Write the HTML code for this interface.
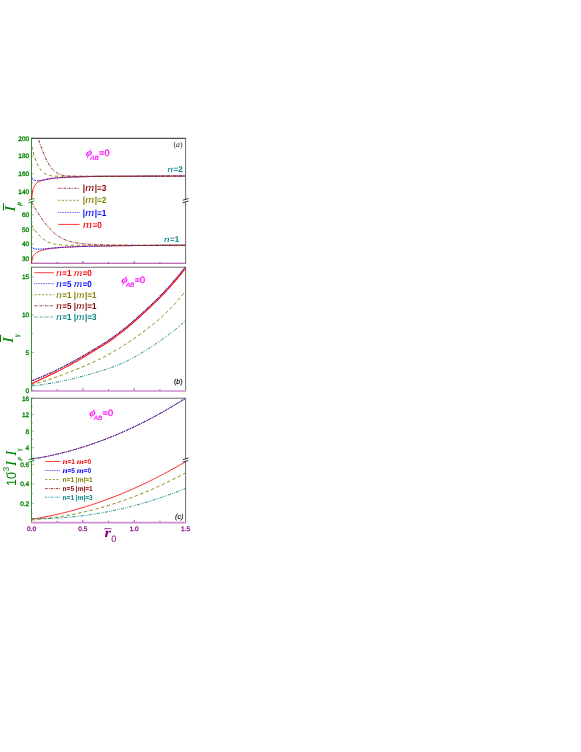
<!DOCTYPE html>
<html><head><meta charset="utf-8"><title>chart</title>
<style>
html,body{margin:0;padding:0;background:#fff;}
body{width:581px;height:752px;overflow:hidden;font-family:"Liberation Sans",sans-serif;}
svg{will-change:transform;}
svg text{white-space:pre;text-rendering:geometricPrecision;}
</style></head><body>
<svg width="581" height="752" viewBox="0 0 581 752" style="display:block" font-family="Liberation Sans" stroke-linecap="butt">
<clipPath id="ca"><rect x="30.9" y="138.3" width="154.7" height="125.0"/></clipPath>
<line x1="31.50" y1="138.30" x2="186.10" y2="138.30" stroke="#222" stroke-width="1.0" />
<line x1="185.60" y1="138.30" x2="185.60" y2="263.30" stroke="#6e6e6e" stroke-width="1.0" />
<line x1="31.50" y1="137.80" x2="31.50" y2="263.30" stroke="#2f962f" stroke-width="1.0" />
<line x1="31.00" y1="263.30" x2="186.10" y2="263.30" stroke="#a040a0" stroke-width="1.1" />
<line x1="31.50" y1="191.79" x2="33.90" y2="191.79" stroke="#008000" stroke-width="0.8" stroke-opacity="0.55"/>
<text x="29.20" y="194.09" fill="#008000" font-size="6.5" text-anchor="end" font-family="Liberation Sans" font-style="normal" font-weight="normal" stroke="#008000" stroke-width="0.3">140</text>
<line x1="31.50" y1="182.88" x2="32.90" y2="182.88" stroke="#008000" stroke-width="0.8" stroke-opacity="0.55"/>
<line x1="31.50" y1="173.96" x2="33.90" y2="173.96" stroke="#008000" stroke-width="0.8" stroke-opacity="0.55"/>
<text x="29.20" y="176.26" fill="#008000" font-size="6.5" text-anchor="end" font-family="Liberation Sans" font-style="normal" font-weight="normal" stroke="#008000" stroke-width="0.3">160</text>
<line x1="31.50" y1="165.05" x2="32.90" y2="165.05" stroke="#008000" stroke-width="0.8" stroke-opacity="0.55"/>
<line x1="31.50" y1="156.13" x2="33.90" y2="156.13" stroke="#008000" stroke-width="0.8" stroke-opacity="0.55"/>
<text x="29.20" y="158.43" fill="#008000" font-size="6.5" text-anchor="end" font-family="Liberation Sans" font-style="normal" font-weight="normal" stroke="#008000" stroke-width="0.3">180</text>
<line x1="31.50" y1="147.22" x2="32.90" y2="147.22" stroke="#008000" stroke-width="0.8" stroke-opacity="0.55"/>
<line x1="31.50" y1="138.30" x2="33.90" y2="138.30" stroke="#008000" stroke-width="0.8" stroke-opacity="0.55"/>
<text x="29.20" y="140.60" fill="#008000" font-size="6.5" text-anchor="end" font-family="Liberation Sans" font-style="normal" font-weight="normal" stroke="#008000" stroke-width="0.3">200</text>
<line x1="31.50" y1="258.70" x2="33.90" y2="258.70" stroke="#008000" stroke-width="0.8" stroke-opacity="0.55"/>
<text x="29.20" y="261.00" fill="#008000" font-size="6.5" text-anchor="end" font-family="Liberation Sans" font-style="normal" font-weight="normal" stroke="#008000" stroke-width="0.3">30</text>
<line x1="31.50" y1="251.41" x2="32.90" y2="251.41" stroke="#008000" stroke-width="0.8" stroke-opacity="0.55"/>
<line x1="31.50" y1="244.13" x2="33.90" y2="244.13" stroke="#008000" stroke-width="0.8" stroke-opacity="0.55"/>
<text x="29.20" y="246.43" fill="#008000" font-size="6.5" text-anchor="end" font-family="Liberation Sans" font-style="normal" font-weight="normal" stroke="#008000" stroke-width="0.3">40</text>
<line x1="31.50" y1="236.84" x2="32.90" y2="236.84" stroke="#008000" stroke-width="0.8" stroke-opacity="0.55"/>
<line x1="31.50" y1="229.56" x2="33.90" y2="229.56" stroke="#008000" stroke-width="0.8" stroke-opacity="0.55"/>
<text x="29.20" y="231.86" fill="#008000" font-size="6.5" text-anchor="end" font-family="Liberation Sans" font-style="normal" font-weight="normal" stroke="#008000" stroke-width="0.3">50</text>
<line x1="31.50" y1="222.27" x2="32.90" y2="222.27" stroke="#008000" stroke-width="0.8" stroke-opacity="0.55"/>
<line x1="31.50" y1="214.99" x2="33.90" y2="214.99" stroke="#008000" stroke-width="0.8" stroke-opacity="0.55"/>
<text x="29.20" y="217.29" fill="#008000" font-size="6.5" text-anchor="end" font-family="Liberation Sans" font-style="normal" font-weight="normal" stroke="#008000" stroke-width="0.3">60</text>
<line x1="31.50" y1="207.70" x2="32.90" y2="207.70" stroke="#008000" stroke-width="0.8" stroke-opacity="0.55"/>
<rect x="30.30" y="199.85" width="2.4" height="1.5" fill="#fff"/>
<line x1="28.60" y1="200.25" x2="34.40" y2="198.45" stroke="#008000" stroke-width="0.85" />
<line x1="28.60" y1="202.75" x2="34.40" y2="200.95" stroke="#008000" stroke-width="0.85" />
<rect x="184.40" y="199.85" width="2.4" height="1.5" fill="#fff"/>
<line x1="182.70" y1="200.25" x2="188.50" y2="198.45" stroke="#111" stroke-width="0.85" />
<line x1="182.70" y1="202.75" x2="188.50" y2="200.95" stroke="#111" stroke-width="0.85" />
<line x1="57.18" y1="263.30" x2="57.18" y2="262.00" stroke="#800080" stroke-width="0.7" />
<line x1="82.87" y1="263.30" x2="82.87" y2="261.10" stroke="#800080" stroke-width="0.7" />
<line x1="108.55" y1="263.30" x2="108.55" y2="262.00" stroke="#800080" stroke-width="0.7" />
<line x1="134.23" y1="263.30" x2="134.23" y2="261.10" stroke="#800080" stroke-width="0.7" />
<line x1="159.92" y1="263.30" x2="159.92" y2="262.00" stroke="#800080" stroke-width="0.7" />
<path d="M58.2,188.3 L79.6,188.3" fill="none" stroke="#800000" stroke-width="0.75" stroke-dasharray="2.5 1 0.8 1" />
<text transform="translate(82.80,191.40) scale(0.93,1)" fill="#800000" font-size="8.9" font-family="Liberation Sans" font-weight="bold">|</text>
<text transform="translate(85.12,191.40) scale(1.17,1)" fill="#800000" font-size="11.0" font-family="Liberation Serif" font-style="italic" font-weight="normal">m</text>
<text transform="translate(94.71,191.40) scale(0.93,1)" fill="#800000" font-size="8.9" font-family="Liberation Sans" font-weight="bold">|=3</text>
<path d="M58.2,200.3 L79.6,200.3" fill="none" stroke="#808000" stroke-width="0.75" stroke-dasharray="2.2 1.5" />
<text transform="translate(82.80,203.40) scale(0.93,1)" fill="#808000" font-size="8.9" font-family="Liberation Sans" font-weight="bold">|</text>
<text transform="translate(85.12,203.40) scale(1.17,1)" fill="#808000" font-size="11.0" font-family="Liberation Serif" font-style="italic" font-weight="normal">m</text>
<text transform="translate(94.71,203.40) scale(0.93,1)" fill="#808000" font-size="8.9" font-family="Liberation Sans" font-weight="bold">|=2</text>
<path d="M58.2,212.5 L79.6,212.5" fill="none" stroke="#0000ff" stroke-width="0.75" stroke-dasharray="0.85 0.85" />
<text transform="translate(82.80,215.60) scale(0.93,1)" fill="#0000ff" font-size="8.9" font-family="Liberation Sans" font-weight="bold">|</text>
<text transform="translate(85.12,215.60) scale(1.17,1)" fill="#0000ff" font-size="11.0" font-family="Liberation Serif" font-style="italic" font-weight="normal">m</text>
<text transform="translate(94.71,215.60) scale(0.93,1)" fill="#0000ff" font-size="8.9" font-family="Liberation Sans" font-weight="bold">|=1</text>
<path d="M58.2,224.4 L79.6,224.4" fill="none" stroke="#ff0000" stroke-width="0.8" />
<text transform="translate(82.80,227.50) scale(1.17,1)" fill="#ff0000" font-size="11.0" font-family="Liberation Serif" font-style="italic" font-weight="normal">m</text>
<text transform="translate(92.39,227.50) scale(0.93,1)" fill="#ff0000" font-size="8.9" font-family="Liberation Sans" font-weight="bold">=0</text>
<text transform="translate(85.40,155.90) skewX(-12)" fill="#ff00ff" font-family="Liberation Serif" font-style="italic" font-weight="bold" font-size="10.399999999999999">ϕ</text>
<text x="90.30" y="159.60" fill="#ff00ff" font-family="Liberation Sans" font-style="italic" font-size="6.3" stroke="#ff00ff" stroke-width="0.15">AB</text>
<text x="99.10" y="155.90" fill="#ff00ff" font-family="Liberation Sans" font-size="9.2" stroke="#ff00ff" stroke-width="0.25">=0</text>
<text x="173.50" y="146.90" fill="#222" font-size="7.8" text-anchor="start" font-family="Liberation Serif" font-style="normal" font-weight="normal" >(<tspan font-style="italic">a</tspan>)</text>
<text transform="translate(167.30,171.90) scale(1.35,1)" fill="#008080" font-size="8.8" font-family="Liberation Serif" font-style="italic" font-weight="normal">n</text>
<text transform="translate(173.54,171.90) scale(0.95,1)" fill="#008080" font-size="8.4" font-family="Liberation Sans" font-weight="bold">=2</text>
<text transform="translate(163.80,242.10) scale(1.35,1)" fill="#008080" font-size="8.8" font-family="Liberation Serif" font-style="italic" font-weight="normal">n</text>
<text transform="translate(170.04,242.10) scale(0.95,1)" fill="#008080" font-size="8.4" font-family="Liberation Sans" font-weight="bold">=1</text>
<g transform="translate(14.8,211.2) rotate(-90)"><text transform="translate(-0.6,0) scale(1.18,1)" fill="#008000" font-family="Liberation Serif" font-style="italic" font-size="15">I</text><line x1="0.6" y1="-11.3" x2="8.0" y2="-11.3" stroke="#008000" stroke-width="1.0"/><text x="5.4" y="5.7" fill="#008000" font-family="Liberation Serif" font-style="italic" font-weight="bold" font-size="7.4">ρ</text></g>
<clipPath id="cb"><rect x="30.9" y="267.2" width="155.1" height="123.80000000000001"/></clipPath>
<line x1="31.50" y1="267.20" x2="186.10" y2="267.20" stroke="#6e6e6e" stroke-width="1.1" />
<line x1="185.60" y1="267.20" x2="185.60" y2="391.00" stroke="#6e6e6e" stroke-width="1.0" />
<line x1="31.50" y1="266.70" x2="31.50" y2="391.00" stroke="#2f962f" stroke-width="1.0" />
<line x1="31.00" y1="390.90" x2="186.10" y2="390.90" stroke="#cf8fcf" stroke-width="1.5" />
<line x1="31.50" y1="390.20" x2="33.90" y2="390.20" stroke="#008000" stroke-width="0.8" stroke-opacity="0.55"/>
<text x="29.20" y="392.50" fill="#008000" font-size="6.5" text-anchor="end" font-family="Liberation Sans" font-style="normal" font-weight="normal" stroke="#008000" stroke-width="0.3">0</text>
<line x1="31.50" y1="371.35" x2="32.90" y2="371.35" stroke="#008000" stroke-width="0.8" stroke-opacity="0.55"/>
<line x1="31.50" y1="352.50" x2="33.90" y2="352.50" stroke="#008000" stroke-width="0.8" stroke-opacity="0.55"/>
<text x="29.20" y="354.80" fill="#008000" font-size="6.5" text-anchor="end" font-family="Liberation Sans" font-style="normal" font-weight="normal" stroke="#008000" stroke-width="0.3">5</text>
<line x1="31.50" y1="333.65" x2="32.90" y2="333.65" stroke="#008000" stroke-width="0.8" stroke-opacity="0.55"/>
<line x1="31.50" y1="314.80" x2="33.90" y2="314.80" stroke="#008000" stroke-width="0.8" stroke-opacity="0.55"/>
<text x="29.20" y="317.10" fill="#008000" font-size="6.5" text-anchor="end" font-family="Liberation Sans" font-style="normal" font-weight="normal" stroke="#008000" stroke-width="0.3">10</text>
<line x1="31.50" y1="295.95" x2="32.90" y2="295.95" stroke="#008000" stroke-width="0.8" stroke-opacity="0.55"/>
<line x1="31.50" y1="277.10" x2="33.90" y2="277.10" stroke="#008000" stroke-width="0.8" stroke-opacity="0.55"/>
<text x="29.20" y="279.40" fill="#008000" font-size="6.5" text-anchor="end" font-family="Liberation Sans" font-style="normal" font-weight="normal" stroke="#008000" stroke-width="0.3">15</text>
<line x1="57.18" y1="390.40" x2="57.18" y2="389.10" stroke="#800080" stroke-width="0.7" />
<line x1="82.87" y1="390.40" x2="82.87" y2="388.20" stroke="#800080" stroke-width="0.7" />
<line x1="108.55" y1="390.40" x2="108.55" y2="389.10" stroke="#800080" stroke-width="0.7" />
<line x1="134.23" y1="390.40" x2="134.23" y2="388.20" stroke="#800080" stroke-width="0.7" />
<line x1="159.92" y1="390.40" x2="159.92" y2="389.10" stroke="#800080" stroke-width="0.7" />
<path d="M34.4,272.7 L53.8,272.7" fill="none" stroke="#ff0000" stroke-width="0.75" />
<text transform="translate(56.10,275.80) scale(1.16,1)" fill="#ff0000" font-size="10.2" font-family="Liberation Serif" font-style="italic" font-weight="normal">n</text>
<text transform="translate(62.32,275.80) scale(0.92,1)" fill="#ff0000" font-size="8.8" font-family="Liberation Sans" font-weight="bold">=1 </text>
<text transform="translate(73.80,275.80) scale(1.16,1)" fill="#ff0000" font-size="10.2" font-family="Liberation Serif" font-style="italic" font-weight="normal">m</text>
<text transform="translate(82.64,275.80) scale(0.92,1)" fill="#ff0000" font-size="8.8" font-family="Liberation Sans" font-weight="bold">=0</text>
<path d="M34.4,283.6 L53.8,283.6" fill="none" stroke="#0000ff" stroke-width="0.75" stroke-dasharray="0.85 0.85" />
<text transform="translate(56.10,286.70) scale(1.16,1)" fill="#0000ff" font-size="10.2" font-family="Liberation Serif" font-style="italic" font-weight="normal">n</text>
<text transform="translate(62.32,286.70) scale(0.92,1)" fill="#0000ff" font-size="8.8" font-family="Liberation Sans" font-weight="bold">=5 </text>
<text transform="translate(73.80,286.70) scale(1.16,1)" fill="#0000ff" font-size="10.2" font-family="Liberation Serif" font-style="italic" font-weight="normal">m</text>
<text transform="translate(82.64,286.70) scale(0.92,1)" fill="#0000ff" font-size="8.8" font-family="Liberation Sans" font-weight="bold">=0</text>
<path d="M34.4,294.7 L53.8,294.7" fill="none" stroke="#808000" stroke-width="0.75" stroke-dasharray="2.2 1.5" />
<text transform="translate(56.10,297.80) scale(1.16,1)" fill="#808000" font-size="10.2" font-family="Liberation Serif" font-style="italic" font-weight="normal">n</text>
<text transform="translate(62.32,297.80) scale(0.92,1)" fill="#808000" font-size="8.8" font-family="Liberation Sans" font-weight="bold">=1 |</text>
<text transform="translate(76.06,297.80) scale(1.16,1)" fill="#808000" font-size="10.2" font-family="Liberation Serif" font-style="italic" font-weight="normal">m</text>
<text transform="translate(84.91,297.80) scale(0.92,1)" fill="#808000" font-size="8.8" font-family="Liberation Sans" font-weight="bold">|=1</text>
<path d="M34.4,305.8 L53.8,305.8" fill="none" stroke="#800000" stroke-width="0.75" stroke-dasharray="2.5 1 0.8 1" />
<text transform="translate(56.10,308.90) scale(1.16,1)" fill="#800000" font-size="10.2" font-family="Liberation Serif" font-style="italic" font-weight="normal">n</text>
<text transform="translate(62.32,308.90) scale(0.92,1)" fill="#800000" font-size="8.8" font-family="Liberation Sans" font-weight="bold">=5 |</text>
<text transform="translate(76.06,308.90) scale(1.16,1)" fill="#800000" font-size="10.2" font-family="Liberation Serif" font-style="italic" font-weight="normal">m</text>
<text transform="translate(84.91,308.90) scale(0.92,1)" fill="#800000" font-size="8.8" font-family="Liberation Sans" font-weight="bold">|=1</text>
<path d="M34.4,317.0 L53.8,317.0" fill="none" stroke="#008080" stroke-width="0.75" stroke-dasharray="2 0.8 0.6 0.8 0.6 0.8" />
<text transform="translate(56.10,320.10) scale(1.16,1)" fill="#008080" font-size="10.2" font-family="Liberation Serif" font-style="italic" font-weight="normal">n</text>
<text transform="translate(62.32,320.10) scale(0.92,1)" fill="#008080" font-size="8.8" font-family="Liberation Sans" font-weight="bold">=1 |</text>
<text transform="translate(76.06,320.10) scale(1.16,1)" fill="#008080" font-size="10.2" font-family="Liberation Serif" font-style="italic" font-weight="normal">m</text>
<text transform="translate(84.91,320.10) scale(0.92,1)" fill="#008080" font-size="8.8" font-family="Liberation Sans" font-weight="bold">|=3</text>
<text transform="translate(121.00,283.00) skewX(-12)" fill="#ff00ff" font-family="Liberation Serif" font-style="italic" font-weight="bold" font-size="10.399999999999999">ϕ</text>
<text x="125.90" y="286.70" fill="#ff00ff" font-family="Liberation Sans" font-style="italic" font-size="6.3" stroke="#ff00ff" stroke-width="0.15">AB</text>
<text x="134.70" y="283.00" fill="#ff00ff" font-family="Liberation Sans" font-size="9.2" stroke="#ff00ff" stroke-width="0.25">=0</text>
<text x="174.00" y="384.40" fill="#111" font-size="7.0" text-anchor="start" font-family="Liberation Sans" font-style="normal" font-weight="normal" stroke="#111" stroke-width="0.2">(<tspan font-style="italic">b</tspan>)</text>
<g transform="translate(13.1,342.4) rotate(-90)"><text transform="translate(-0.6,0) scale(1.18,1)" fill="#008000" font-family="Liberation Serif" font-style="italic" font-size="15">I</text><line x1="0.4" y1="-12.6" x2="7.6" y2="-12.6" stroke="#008000" stroke-width="1.0"/><text x="5.4" y="5.7" fill="#008000" font-family="Liberation Serif" font-style="italic" font-weight="bold" font-size="7.4">γ</text></g>
<clipPath id="cc"><rect x="30.9" y="398.2" width="155.1" height="124.59999999999997"/></clipPath>
<line x1="31.50" y1="398.20" x2="186.10" y2="398.20" stroke="#6e6e6e" stroke-width="1.1" />
<line x1="185.60" y1="398.20" x2="185.60" y2="522.80" stroke="#6e6e6e" stroke-width="1.0" />
<line x1="31.50" y1="397.70" x2="31.50" y2="522.80" stroke="#2f962f" stroke-width="1.0" />
<line x1="31.00" y1="522.70" x2="186.10" y2="522.70" stroke="#cf8fcf" stroke-width="1.7" />
<line x1="31.50" y1="455.95" x2="32.90" y2="455.95" stroke="#008000" stroke-width="0.8" stroke-opacity="0.55"/>
<line x1="31.50" y1="447.70" x2="33.90" y2="447.70" stroke="#008000" stroke-width="0.8" stroke-opacity="0.55"/>
<text x="29.20" y="450.00" fill="#008000" font-size="6.5" text-anchor="end" font-family="Liberation Sans" font-style="normal" font-weight="normal" stroke="#008000" stroke-width="0.3">4</text>
<line x1="31.50" y1="439.45" x2="32.90" y2="439.45" stroke="#008000" stroke-width="0.8" stroke-opacity="0.55"/>
<line x1="31.50" y1="431.20" x2="33.90" y2="431.20" stroke="#008000" stroke-width="0.8" stroke-opacity="0.55"/>
<text x="29.20" y="433.50" fill="#008000" font-size="6.5" text-anchor="end" font-family="Liberation Sans" font-style="normal" font-weight="normal" stroke="#008000" stroke-width="0.3">8</text>
<line x1="31.50" y1="422.95" x2="32.90" y2="422.95" stroke="#008000" stroke-width="0.8" stroke-opacity="0.55"/>
<line x1="31.50" y1="414.70" x2="33.90" y2="414.70" stroke="#008000" stroke-width="0.8" stroke-opacity="0.55"/>
<text x="29.20" y="417.00" fill="#008000" font-size="6.5" text-anchor="end" font-family="Liberation Sans" font-style="normal" font-weight="normal" stroke="#008000" stroke-width="0.3">12</text>
<line x1="31.50" y1="406.45" x2="32.90" y2="406.45" stroke="#008000" stroke-width="0.8" stroke-opacity="0.55"/>
<line x1="31.50" y1="398.20" x2="33.90" y2="398.20" stroke="#008000" stroke-width="0.8" stroke-opacity="0.55"/>
<text x="29.20" y="400.50" fill="#008000" font-size="6.5" text-anchor="end" font-family="Liberation Sans" font-style="normal" font-weight="normal" stroke="#008000" stroke-width="0.3">16</text>
<line x1="31.50" y1="513.17" x2="32.90" y2="513.17" stroke="#008000" stroke-width="0.8" stroke-opacity="0.55"/>
<line x1="31.50" y1="503.40" x2="33.90" y2="503.40" stroke="#008000" stroke-width="0.8" stroke-opacity="0.55"/>
<text x="29.20" y="505.70" fill="#008000" font-size="6.5" text-anchor="end" font-family="Liberation Sans" font-style="normal" font-weight="normal" stroke="#008000" stroke-width="0.3">0.2</text>
<line x1="31.50" y1="493.63" x2="32.90" y2="493.63" stroke="#008000" stroke-width="0.8" stroke-opacity="0.55"/>
<line x1="31.50" y1="483.86" x2="33.90" y2="483.86" stroke="#008000" stroke-width="0.8" stroke-opacity="0.55"/>
<text x="29.20" y="486.16" fill="#008000" font-size="6.5" text-anchor="end" font-family="Liberation Sans" font-style="normal" font-weight="normal" stroke="#008000" stroke-width="0.3">0.4</text>
<line x1="31.50" y1="474.09" x2="32.90" y2="474.09" stroke="#008000" stroke-width="0.8" stroke-opacity="0.55"/>
<line x1="31.50" y1="464.32" x2="33.90" y2="464.32" stroke="#008000" stroke-width="0.8" stroke-opacity="0.55"/>
<text x="29.20" y="466.62" fill="#008000" font-size="6.5" text-anchor="end" font-family="Liberation Sans" font-style="normal" font-weight="normal" stroke="#008000" stroke-width="0.3">0.6</text>
<rect x="30.30" y="459.35" width="2.4" height="1.5" fill="#fff"/>
<line x1="28.60" y1="459.75" x2="34.40" y2="457.95" stroke="#008000" stroke-width="0.85" />
<line x1="28.60" y1="462.25" x2="34.40" y2="460.45" stroke="#008000" stroke-width="0.85" />
<rect x="184.40" y="459.35" width="2.4" height="1.5" fill="#fff"/>
<line x1="182.70" y1="459.75" x2="188.50" y2="457.95" stroke="#111" stroke-width="0.85" />
<line x1="182.70" y1="462.25" x2="188.50" y2="460.45" stroke="#111" stroke-width="0.85" />
<text x="31.50" y="530.80" fill="#800080" font-size="6.5" text-anchor="middle" font-family="Liberation Sans" font-style="normal" font-weight="normal" stroke="#800080" stroke-width="0.25">0.0</text>
<line x1="57.18" y1="522.10" x2="57.18" y2="520.80" stroke="#800080" stroke-width="0.7" />
<line x1="82.87" y1="522.10" x2="82.87" y2="519.90" stroke="#800080" stroke-width="0.7" />
<text x="82.87" y="530.80" fill="#800080" font-size="6.5" text-anchor="middle" font-family="Liberation Sans" font-style="normal" font-weight="normal" stroke="#800080" stroke-width="0.25">0.5</text>
<line x1="108.55" y1="522.10" x2="108.55" y2="520.80" stroke="#800080" stroke-width="0.7" />
<line x1="134.23" y1="522.10" x2="134.23" y2="519.90" stroke="#800080" stroke-width="0.7" />
<text x="134.23" y="530.80" fill="#800080" font-size="6.5" text-anchor="middle" font-family="Liberation Sans" font-style="normal" font-weight="normal" stroke="#800080" stroke-width="0.25">1.0</text>
<line x1="159.92" y1="522.10" x2="159.92" y2="520.80" stroke="#800080" stroke-width="0.7" />
<text x="185.60" y="530.80" fill="#800080" font-size="6.5" text-anchor="middle" font-family="Liberation Sans" font-style="normal" font-weight="normal" stroke="#800080" stroke-width="0.25">1.5</text>
<path d="M45.2,461.5 L60,461.5" fill="none" stroke="#ff0000" stroke-width="0.75" />
<text transform="translate(62.60,464.10) scale(1.25,1)" fill="#ff0000" font-size="7.4" font-family="Liberation Serif" font-style="italic" font-weight="bold">n</text>
<text transform="translate(67.53,464.10) scale(0.93,1)" fill="#ff0000" font-size="7.0" font-family="Liberation Sans" font-weight="bold">=1 </text>
<text transform="translate(76.76,464.10) scale(1.25,1)" fill="#ff0000" font-size="7.4" font-family="Liberation Serif" font-style="italic" font-weight="bold">m</text>
<text transform="translate(83.74,464.10) scale(0.93,1)" fill="#ff0000" font-size="7.0" font-family="Liberation Sans" font-weight="bold">=0</text>
<path d="M45.2,470.5 L60,470.5" fill="none" stroke="#0000ff" stroke-width="0.75" stroke-dasharray="0.85 0.85" />
<text transform="translate(62.60,473.10) scale(1.25,1)" fill="#0000ff" font-size="7.4" font-family="Liberation Serif" font-style="italic" font-weight="bold">n</text>
<text transform="translate(67.53,473.10) scale(0.93,1)" fill="#0000ff" font-size="7.0" font-family="Liberation Sans" font-weight="bold">=5 </text>
<text transform="translate(76.76,473.10) scale(1.25,1)" fill="#0000ff" font-size="7.4" font-family="Liberation Serif" font-style="italic" font-weight="bold">m</text>
<text transform="translate(83.74,473.10) scale(0.93,1)" fill="#0000ff" font-size="7.0" font-family="Liberation Sans" font-weight="bold">=0</text>
<path d="M45.2,479.5 L60,479.5" fill="none" stroke="#808000" stroke-width="0.75" stroke-dasharray="2.2 1.5" />
<text transform="translate(62.60,482.10) scale(0.93,1)" fill="#808000" font-size="7.0" font-family="Liberation Sans" font-weight="bold">n=1 |m|=1</text>
<path d="M45.2,488.5 L60,488.5" fill="none" stroke="#800000" stroke-width="0.75" stroke-dasharray="2.5 1 0.8 1" />
<text transform="translate(62.60,491.10) scale(0.93,1)" fill="#800000" font-size="7.0" font-family="Liberation Sans" font-weight="bold">n=5 |m|=1</text>
<path d="M45.2,497.2 L60,497.2" fill="none" stroke="#008080" stroke-width="0.75" stroke-dasharray="2 0.8 0.6 0.8 0.6 0.8" />
<text transform="translate(62.60,499.80) scale(0.93,1)" fill="#008080" font-size="7.0" font-family="Liberation Sans" font-weight="bold">n=1 |m|=3</text>
<text transform="translate(88.90,415.80) skewX(-12)" fill="#ff00ff" font-family="Liberation Serif" font-style="italic" font-weight="bold" font-size="10.399999999999999">ϕ</text>
<text x="93.80" y="419.50" fill="#ff00ff" font-family="Liberation Sans" font-style="italic" font-size="6.3" stroke="#ff00ff" stroke-width="0.15">AB</text>
<text x="102.60" y="415.80" fill="#ff00ff" font-family="Liberation Sans" font-size="9.2" stroke="#ff00ff" stroke-width="0.25">=0</text>
<text x="175.00" y="518.60" fill="#111" font-size="7.2" text-anchor="start" font-family="Liberation Sans" font-style="italic" font-weight="normal" stroke="#111" stroke-width="0.15">(c)</text>
<text x="104.6" y="536.6" fill="#800080" font-family="Liberation Serif" font-style="italic" font-weight="bold" font-size="13.5" textLength="6.6" lengthAdjust="spacingAndGlyphs">r</text>
<line x1="104.20" y1="528.70" x2="111.40" y2="528.70" stroke="#800080" stroke-width="0.8" />
<text x="111.30" y="542.00" fill="#800080" font-size="9.2" text-anchor="start" font-family="Liberation Sans" font-style="normal" font-weight="normal" >0</text>
<g transform="translate(16.1,485.9) rotate(-90)"><text x="0" y="0" fill="#008000" font-family="Liberation Sans" font-size="13.6" textLength="13.9" lengthAdjust="spacingAndGlyphs">10</text><text x="11.6" y="-7.0" fill="#008000" font-family="Liberation Sans" font-size="8.4">-3</text><text x="20.0" y="0" fill="#008000" font-family="Liberation Serif" font-style="italic" font-size="15">I</text><text x="25.4" y="4.6" fill="#008000" font-family="Liberation Serif" font-style="italic" font-weight="bold" font-size="6.8">ρ</text><text x="30.2" y="0" fill="#008000" font-family="Liberation Serif" font-style="italic" font-size="15">I</text><text x="34.8" y="4.6" fill="#008000" font-family="Liberation Serif" font-style="italic" font-weight="bold" font-size="6.8">γ</text></g>
<g clip-path="url(#ca)">
<path d="M31.60,199.60 L32.12,194.45 L32.63,190.67 L33.15,188.90 L33.66,187.65 L34.18,186.65 L34.69,185.70 L35.21,184.86 L35.72,184.15 L36.24,183.56 L36.75,183.09 L37.27,182.68 L37.78,182.31 L38.30,181.98 L38.81,181.69 L39.33,181.43 L39.84,181.20 L40.36,180.99 L40.87,180.80 L41.39,180.62 L41.90,180.45 L42.42,180.30 L42.93,180.15 L43.45,180.01 L43.96,179.88 L44.48,179.75 L44.99,179.63 L45.51,179.51 L46.02,179.40 L46.54,179.29 L47.05,179.19 L47.57,179.09 L48.08,179.00 L48.60,178.92 L49.11,178.83 L49.63,178.75 L50.14,178.68 L50.66,178.60 L51.17,178.53 L51.69,178.46 L52.20,178.40 L52.72,178.34 L53.23,178.28 L53.75,178.22 L54.26,178.16 L54.78,178.11 L55.29,178.06 L55.81,178.02 L56.32,177.97 L56.84,177.93 L57.35,177.89 L57.87,177.85 L58.38,177.81 L58.90,177.77 L59.41,177.74 L59.93,177.70 L60.44,177.67 L60.96,177.64 L61.47,177.60 L61.99,177.57 L62.50,177.54 L63.02,177.51 L63.53,177.48 L64.05,177.45 L64.56,177.42 L65.08,177.39 L65.59,177.36 L66.11,177.34 L66.62,177.31 L67.14,177.29 L67.65,177.27 L68.17,177.24 L68.68,177.22 L69.20,177.20 L69.71,177.18 L70.23,177.16 L70.74,177.14 L71.26,177.12 L71.77,177.11 L72.29,177.09 L72.80,177.07 L73.32,177.05 L73.83,177.04 L74.35,177.02 L74.86,177.01 L75.38,176.99 L75.89,176.97 L76.41,176.96 L76.92,176.94 L77.44,176.93 L77.95,176.91 L78.47,176.90 L78.98,176.88 L79.50,176.87 L80.01,176.85 L80.53,176.83 L81.04,176.82 L81.56,176.80 L82.07,176.78 L82.59,176.77 L83.11,176.75 L83.62,176.73 L84.14,176.71 L84.65,176.70 L85.17,176.68 L85.68,176.66 L86.20,176.65 L86.71,176.63 L87.23,176.62 L87.74,176.60 L88.26,176.59 L88.77,176.57 L89.29,176.56 L89.80,176.55 L90.32,176.53 L90.83,176.52 L91.35,176.51 L91.86,176.50 L92.38,176.49 L92.89,176.49 L93.41,176.48 L93.92,176.47 L94.44,176.46 L94.95,176.45 L95.47,176.45 L95.98,176.44 L96.50,176.43 L97.01,176.42 L97.53,176.42 L98.04,176.41 L98.56,176.40 L99.07,176.40 L99.59,176.39 L100.10,176.39 L100.62,176.38 L101.13,176.37 L101.65,176.37 L102.16,176.36 L102.68,176.36 L103.19,176.35 L103.71,176.35 L104.22,176.34 L104.74,176.34 L105.25,176.33 L105.77,176.33 L106.28,176.33 L106.80,176.32 L107.31,176.32 L107.83,176.31 L108.34,176.31 L108.86,176.31 L109.37,176.30 L109.89,176.30 L110.40,176.30 L110.92,176.29 L111.43,176.29 L111.95,176.29 L112.46,176.29 L112.98,176.28 L113.49,176.28 L114.01,176.28 L114.52,176.27 L115.04,176.27 L115.55,176.27 L116.07,176.27 L116.58,176.26 L117.10,176.26 L117.61,176.26 L118.13,176.25 L118.64,176.25 L119.16,176.25 L119.67,176.25 L120.19,176.24 L120.70,176.24 L121.22,176.24 L121.73,176.24 L122.25,176.23 L122.76,176.23 L123.28,176.23 L123.79,176.23 L124.31,176.22 L124.82,176.22 L125.34,176.22 L125.85,176.21 L126.37,176.21 L126.88,176.21 L127.40,176.21 L127.91,176.20 L128.43,176.20 L128.94,176.20 L129.46,176.20 L129.97,176.19 L130.49,176.19 L131.00,176.19 L131.52,176.19 L132.03,176.19 L132.55,176.18 L133.06,176.18 L133.58,176.18 L134.09,176.18 L134.61,176.17 L135.13,176.17 L135.64,176.17 L136.16,176.17 L136.67,176.16 L137.19,176.16 L137.70,176.16 L138.22,176.16 L138.73,176.16 L139.25,176.15 L139.76,176.15 L140.28,176.15 L140.79,176.15 L141.31,176.15 L141.82,176.14 L142.34,176.14 L142.85,176.14 L143.37,176.14 L143.88,176.14 L144.40,176.13 L144.91,176.13 L145.43,176.13 L145.94,176.13 L146.46,176.13 L146.97,176.12 L147.49,176.12 L148.00,176.12 L148.52,176.12 L149.03,176.12 L149.55,176.11 L150.06,176.11 L150.58,176.11 L151.09,176.11 L151.61,176.11 L152.12,176.11 L152.64,176.10 L153.15,176.10 L153.67,176.10 L154.18,176.10 L154.70,176.10 L155.21,176.10 L155.73,176.10 L156.24,176.09 L156.76,176.09 L157.27,176.09 L157.79,176.09 L158.30,176.09 L158.82,176.09 L159.33,176.09 L159.85,176.08 L160.36,176.08 L160.88,176.08 L161.39,176.08 L161.91,176.08 L162.42,176.08 L162.94,176.08 L163.45,176.08 L163.97,176.07 L164.48,176.07 L165.00,176.07 L165.51,176.07 L166.03,176.07 L166.54,176.07 L167.06,176.07 L167.57,176.07 L168.09,176.07 L168.60,176.07 L169.12,176.06 L169.63,176.06 L170.15,176.06 L170.66,176.06 L171.18,176.06 L171.69,176.06 L172.21,176.06 L172.72,176.06 L173.24,176.06 L173.75,176.06 L174.27,176.06 L174.78,176.06 L175.30,176.06 L175.81,176.06 L176.33,176.05 L176.84,176.05 L177.36,176.05 L177.87,176.05 L178.39,176.05 L178.90,176.05 L179.42,176.05 L179.93,176.05 L180.45,176.05 L180.96,176.05 L181.48,176.05 L181.99,176.05 L182.51,176.05 L183.02,176.05 L183.54,176.05 L184.05,176.05 L184.57,176.05 L185.08,176.05 L185.60,176.05" fill="none" stroke="#ff0000" stroke-width="0.9" />
<path d="M31.60,263.00 L32.12,257.95 L32.63,256.72 L33.15,256.02 L33.66,255.45 L34.18,254.82 L34.69,254.23 L35.21,253.70 L35.72,253.24 L36.24,252.84 L36.75,252.51 L37.27,252.20 L37.78,251.92 L38.30,251.66 L38.81,251.42 L39.33,251.21 L39.84,251.00 L40.36,250.82 L40.87,250.64 L41.39,250.47 L41.90,250.31 L42.42,250.16 L42.93,250.02 L43.45,249.89 L43.96,249.76 L44.48,249.64 L44.99,249.53 L45.51,249.42 L46.02,249.32 L46.54,249.22 L47.05,249.12 L47.57,249.03 L48.08,248.94 L48.60,248.85 L49.11,248.77 L49.63,248.69 L50.14,248.62 L50.66,248.55 L51.17,248.48 L51.69,248.41 L52.20,248.35 L52.72,248.29 L53.23,248.23 L53.75,248.17 L54.26,248.12 L54.78,248.06 L55.29,248.01 L55.81,247.96 L56.32,247.91 L56.84,247.86 L57.35,247.82 L57.87,247.77 L58.38,247.73 L58.90,247.69 L59.41,247.64 L59.93,247.61 L60.44,247.57 L60.96,247.53 L61.47,247.49 L61.99,247.46 L62.50,247.42 L63.02,247.39 L63.53,247.36 L64.05,247.33 L64.56,247.30 L65.08,247.27 L65.59,247.24 L66.11,247.21 L66.62,247.18 L67.14,247.15 L67.65,247.12 L68.17,247.10 L68.68,247.07 L69.20,247.04 L69.71,247.01 L70.23,246.99 L70.74,246.96 L71.26,246.94 L71.77,246.91 L72.29,246.88 L72.80,246.86 L73.32,246.83 L73.83,246.81 L74.35,246.78 L74.86,246.76 L75.38,246.73 L75.89,246.71 L76.41,246.69 L76.92,246.66 L77.44,246.64 L77.95,246.62 L78.47,246.60 L78.98,246.58 L79.50,246.57 L80.01,246.55 L80.53,246.53 L81.04,246.52 L81.56,246.50 L82.07,246.49 L82.59,246.47 L83.11,246.46 L83.62,246.45 L84.14,246.43 L84.65,246.42 L85.17,246.41 L85.68,246.39 L86.20,246.38 L86.71,246.37 L87.23,246.36 L87.74,246.34 L88.26,246.33 L88.77,246.32 L89.29,246.31 L89.80,246.30 L90.32,246.29 L90.83,246.28 L91.35,246.27 L91.86,246.26 L92.38,246.25 L92.89,246.24 L93.41,246.23 L93.92,246.22 L94.44,246.21 L94.95,246.20 L95.47,246.19 L95.98,246.18 L96.50,246.17 L97.01,246.16 L97.53,246.15 L98.04,246.14 L98.56,246.13 L99.07,246.12 L99.59,246.11 L100.10,246.10 L100.62,246.09 L101.13,246.08 L101.65,246.07 L102.16,246.06 L102.68,246.05 L103.19,246.04 L103.71,246.03 L104.22,246.02 L104.74,246.01 L105.25,246.00 L105.77,245.99 L106.28,245.98 L106.80,245.97 L107.31,245.96 L107.83,245.95 L108.34,245.94 L108.86,245.93 L109.37,245.92 L109.89,245.91 L110.40,245.90 L110.92,245.89 L111.43,245.88 L111.95,245.87 L112.46,245.86 L112.98,245.85 L113.49,245.84 L114.01,245.83 L114.52,245.82 L115.04,245.81 L115.55,245.80 L116.07,245.79 L116.58,245.79 L117.10,245.78 L117.61,245.77 L118.13,245.76 L118.64,245.75 L119.16,245.74 L119.67,245.73 L120.19,245.73 L120.70,245.72 L121.22,245.71 L121.73,245.70 L122.25,245.69 L122.76,245.69 L123.28,245.68 L123.79,245.67 L124.31,245.67 L124.82,245.66 L125.34,245.65 L125.85,245.65 L126.37,245.64 L126.88,245.63 L127.40,245.63 L127.91,245.62 L128.43,245.62 L128.94,245.61 L129.46,245.61 L129.97,245.60 L130.49,245.60 L131.00,245.59 L131.52,245.59 L132.03,245.58 L132.55,245.58 L133.06,245.57 L133.58,245.57 L134.09,245.56 L134.61,245.56 L135.13,245.55 L135.64,245.55 L136.16,245.55 L136.67,245.54 L137.19,245.54 L137.70,245.53 L138.22,245.53 L138.73,245.53 L139.25,245.52 L139.76,245.52 L140.28,245.51 L140.79,245.51 L141.31,245.51 L141.82,245.50 L142.34,245.50 L142.85,245.50 L143.37,245.49 L143.88,245.49 L144.40,245.49 L144.91,245.48 L145.43,245.48 L145.94,245.48 L146.46,245.47 L146.97,245.47 L147.49,245.47 L148.00,245.46 L148.52,245.46 L149.03,245.46 L149.55,245.46 L150.06,245.45 L150.58,245.45 L151.09,245.45 L151.61,245.44 L152.12,245.44 L152.64,245.44 L153.15,245.43 L153.67,245.43 L154.18,245.43 L154.70,245.43 L155.21,245.42 L155.73,245.42 L156.24,245.42 L156.76,245.42 L157.27,245.41 L157.79,245.41 L158.30,245.41 L158.82,245.41 L159.33,245.40 L159.85,245.40 L160.36,245.40 L160.88,245.40 L161.39,245.39 L161.91,245.39 L162.42,245.39 L162.94,245.39 L163.45,245.38 L163.97,245.38 L164.48,245.38 L165.00,245.38 L165.51,245.37 L166.03,245.37 L166.54,245.37 L167.06,245.37 L167.57,245.36 L168.09,245.36 L168.60,245.36 L169.12,245.36 L169.63,245.36 L170.15,245.35 L170.66,245.35 L171.18,245.35 L171.69,245.35 L172.21,245.35 L172.72,245.34 L173.24,245.34 L173.75,245.34 L174.27,245.34 L174.78,245.34 L175.30,245.33 L175.81,245.33 L176.33,245.33 L176.84,245.33 L177.36,245.33 L177.87,245.32 L178.39,245.32 L178.90,245.32 L179.42,245.32 L179.93,245.32 L180.45,245.32 L180.96,245.31 L181.48,245.31 L181.99,245.31 L182.51,245.31 L183.02,245.31 L183.54,245.31 L184.05,245.30 L184.57,245.30 L185.08,245.30 L185.60,245.30" fill="none" stroke="#ff0000" stroke-width="0.9" />
<path d="M31.60,177.20 L32.12,178.06 L32.63,178.82 L33.15,179.36 L33.66,179.70 L34.18,180.02 L34.69,180.29 L35.21,180.50 L35.72,180.64 L36.24,180.70 L36.75,180.70 L37.27,180.69 L37.78,180.67 L38.30,180.64 L38.81,180.61 L39.33,180.58 L39.84,180.54 L40.36,180.50 L40.87,180.45 L41.39,180.38 L41.90,180.29 L42.42,180.19 L42.93,180.08 L43.45,179.96 L43.96,179.84 L44.48,179.73 L44.99,179.62 L45.51,179.52 L46.02,179.43 L46.54,179.34 L47.05,179.25 L47.57,179.16 L48.08,179.07 L48.60,178.98 L49.11,178.90 L49.63,178.82 L50.14,178.74 L50.66,178.66 L51.17,178.59 L51.69,178.51 L52.20,178.45 L52.72,178.38 L53.23,178.31 L53.75,178.25 L54.26,178.18 L54.78,178.12 L55.29,178.06 L55.81,178.00 L56.32,177.94 L56.84,177.88 L57.35,177.83 L57.87,177.78 L58.38,177.73 L58.90,177.68 L59.41,177.64 L59.93,177.60 L60.44,177.57 L60.96,177.54 L61.47,177.51 L61.99,177.48 L62.50,177.45 L63.02,177.42 L63.53,177.39 L64.05,177.37 L64.56,177.35 L65.08,177.32 L65.59,177.30 L66.11,177.28 L66.62,177.26 L67.14,177.24 L67.65,177.21 L68.17,177.19 L68.68,177.17 L69.20,177.15 L69.71,177.13 L70.23,177.11 L70.74,177.10 L71.26,177.08 L71.77,177.06 L72.29,177.04 L72.80,177.02 L73.32,177.01 L73.83,176.99 L74.35,176.97 L74.86,176.96 L75.38,176.94 L75.89,176.93 L76.41,176.91 L76.92,176.89 L77.44,176.88 L77.95,176.86 L78.47,176.85 L78.98,176.83 L79.50,176.82 L80.01,176.80 L80.53,176.78 L81.04,176.77 L81.56,176.75 L82.07,176.73 L82.59,176.71 L83.11,176.70 L83.62,176.68 L84.14,176.66 L84.65,176.64 L85.17,176.63 L85.68,176.61 L86.20,176.59 L86.71,176.58 L87.23,176.56 L87.74,176.54 L88.26,176.53 L88.77,176.52 L89.29,176.50 L89.80,176.49 L90.32,176.48 L90.83,176.47 L91.35,176.46 L91.86,176.45 L92.38,176.44 L92.89,176.44 L93.41,176.43 L93.92,176.43 L94.44,176.42 L94.95,176.41 L95.47,176.41 L95.98,176.40 L96.50,176.40 L97.01,176.39 L97.53,176.39 L98.04,176.38 L98.56,176.38 L99.07,176.37 L99.59,176.37 L100.10,176.36 L100.62,176.36 L101.13,176.36 L101.65,176.35 L102.16,176.35 L102.68,176.34 L103.19,176.34 L103.71,176.34 L104.22,176.33 L104.74,176.33 L105.25,176.33 L105.77,176.32 L106.28,176.32 L106.80,176.32 L107.31,176.31 L107.83,176.31 L108.34,176.31 L108.86,176.31 L109.37,176.30 L109.89,176.30 L110.40,176.30 L110.92,176.30 L111.43,176.29 L111.95,176.29 L112.46,176.29 L112.98,176.28 L113.49,176.28 L114.01,176.28 L114.52,176.28 L115.04,176.27 L115.55,176.27 L116.07,176.27 L116.58,176.27 L117.10,176.26 L117.61,176.26 L118.13,176.26 L118.64,176.26 L119.16,176.25 L119.67,176.25 L120.19,176.25 L120.70,176.25 L121.22,176.24 L121.73,176.24 L122.25,176.24 L122.76,176.24 L123.28,176.23 L123.79,176.23 L124.31,176.23 L124.82,176.23 L125.34,176.22 L125.85,176.22 L126.37,176.22 L126.88,176.22 L127.40,176.21 L127.91,176.21 L128.43,176.21 L128.94,176.21 L129.46,176.20 L129.97,176.20 L130.49,176.20 L131.00,176.20 L131.52,176.19 L132.03,176.19 L132.55,176.19 L133.06,176.19 L133.58,176.18 L134.09,176.18 L134.61,176.18 L135.13,176.18 L135.64,176.18 L136.16,176.17 L136.67,176.17 L137.19,176.17 L137.70,176.17 L138.22,176.16 L138.73,176.16 L139.25,176.16 L139.76,176.16 L140.28,176.16 L140.79,176.15 L141.31,176.15 L141.82,176.15 L142.34,176.15 L142.85,176.14 L143.37,176.14 L143.88,176.14 L144.40,176.14 L144.91,176.14 L145.43,176.13 L145.94,176.13 L146.46,176.13 L146.97,176.13 L147.49,176.13 L148.00,176.13 L148.52,176.12 L149.03,176.12 L149.55,176.12 L150.06,176.12 L150.58,176.12 L151.09,176.11 L151.61,176.11 L152.12,176.11 L152.64,176.11 L153.15,176.11 L153.67,176.11 L154.18,176.10 L154.70,176.10 L155.21,176.10 L155.73,176.10 L156.24,176.10 L156.76,176.10 L157.27,176.09 L157.79,176.09 L158.30,176.09 L158.82,176.09 L159.33,176.09 L159.85,176.09 L160.36,176.09 L160.88,176.08 L161.39,176.08 L161.91,176.08 L162.42,176.08 L162.94,176.08 L163.45,176.08 L163.97,176.08 L164.48,176.08 L165.00,176.07 L165.51,176.07 L166.03,176.07 L166.54,176.07 L167.06,176.07 L167.57,176.07 L168.09,176.07 L168.60,176.07 L169.12,176.07 L169.63,176.06 L170.15,176.06 L170.66,176.06 L171.18,176.06 L171.69,176.06 L172.21,176.06 L172.72,176.06 L173.24,176.06 L173.75,176.06 L174.27,176.06 L174.78,176.06 L175.30,176.06 L175.81,176.06 L176.33,176.06 L176.84,176.05 L177.36,176.05 L177.87,176.05 L178.39,176.05 L178.90,176.05 L179.42,176.05 L179.93,176.05 L180.45,176.05 L180.96,176.05 L181.48,176.05 L181.99,176.05 L182.51,176.05 L183.02,176.05 L183.54,176.05 L184.05,176.05 L184.57,176.05 L185.08,176.05 L185.60,176.05" fill="none" stroke="#0000ff" stroke-width="1.1" stroke-dasharray="0.85 0.85" />
<path d="M31.60,247.20 L32.12,247.60 L32.63,247.97 L33.15,248.28 L33.66,248.49 L34.18,248.63 L34.69,248.76 L35.21,248.87 L35.72,248.96 L36.24,249.03 L36.75,249.08 L37.27,249.10 L37.78,249.10 L38.30,249.09 L38.81,249.08 L39.33,249.07 L39.84,249.06 L40.36,249.04 L40.87,249.02 L41.39,249.00 L41.90,248.98 L42.42,248.95 L42.93,248.93 L43.45,248.90 L43.96,248.87 L44.48,248.84 L44.99,248.80 L45.51,248.75 L46.02,248.70 L46.54,248.65 L47.05,248.59 L47.57,248.53 L48.08,248.47 L48.60,248.41 L49.11,248.36 L49.63,248.30 L50.14,248.25 L50.66,248.20 L51.17,248.16 L51.69,248.12 L52.20,248.07 L52.72,248.03 L53.23,247.99 L53.75,247.95 L54.26,247.91 L54.78,247.87 L55.29,247.83 L55.81,247.79 L56.32,247.75 L56.84,247.71 L57.35,247.68 L57.87,247.64 L58.38,247.61 L58.90,247.57 L59.41,247.54 L59.93,247.50 L60.44,247.47 L60.96,247.44 L61.47,247.41 L61.99,247.38 L62.50,247.35 L63.02,247.32 L63.53,247.29 L64.05,247.26 L64.56,247.23 L65.08,247.20 L65.59,247.18 L66.11,247.15 L66.62,247.12 L67.14,247.09 L67.65,247.07 L68.17,247.04 L68.68,247.02 L69.20,246.99 L69.71,246.96 L70.23,246.94 L70.74,246.91 L71.26,246.89 L71.77,246.86 L72.29,246.84 L72.80,246.81 L73.32,246.78 L73.83,246.76 L74.35,246.73 L74.86,246.71 L75.38,246.68 L75.89,246.66 L76.41,246.64 L76.92,246.62 L77.44,246.59 L77.95,246.57 L78.47,246.55 L78.98,246.53 L79.50,246.52 L80.01,246.50 L80.53,246.48 L81.04,246.47 L81.56,246.45 L82.07,246.44 L82.59,246.42 L83.11,246.41 L83.62,246.40 L84.14,246.38 L84.65,246.37 L85.17,246.35 L85.68,246.34 L86.20,246.33 L86.71,246.32 L87.23,246.30 L87.74,246.29 L88.26,246.28 L88.77,246.27 L89.29,246.26 L89.80,246.25 L90.32,246.24 L90.83,246.23 L91.35,246.21 L91.86,246.20 L92.38,246.19 L92.89,246.18 L93.41,246.17 L93.92,246.16 L94.44,246.15 L94.95,246.14 L95.47,246.13 L95.98,246.12 L96.50,246.11 L97.01,246.10 L97.53,246.10 L98.04,246.09 L98.56,246.08 L99.07,246.07 L99.59,246.06 L100.10,246.05 L100.62,246.04 L101.13,246.03 L101.65,246.02 L102.16,246.01 L102.68,246.00 L103.19,245.99 L103.71,245.98 L104.22,245.97 L104.74,245.96 L105.25,245.96 L105.77,245.95 L106.28,245.94 L106.80,245.93 L107.31,245.92 L107.83,245.91 L108.34,245.90 L108.86,245.89 L109.37,245.88 L109.89,245.87 L110.40,245.87 L110.92,245.86 L111.43,245.85 L111.95,245.84 L112.46,245.83 L112.98,245.82 L113.49,245.82 L114.01,245.81 L114.52,245.80 L115.04,245.79 L115.55,245.78 L116.07,245.77 L116.58,245.77 L117.10,245.76 L117.61,245.75 L118.13,245.74 L118.64,245.74 L119.16,245.73 L119.67,245.72 L120.19,245.71 L120.70,245.71 L121.22,245.70 L121.73,245.69 L122.25,245.69 L122.76,245.68 L123.28,245.67 L123.79,245.67 L124.31,245.66 L124.82,245.65 L125.34,245.65 L125.85,245.64 L126.37,245.64 L126.88,245.63 L127.40,245.63 L127.91,245.62 L128.43,245.62 L128.94,245.61 L129.46,245.61 L129.97,245.60 L130.49,245.60 L131.00,245.59 L131.52,245.59 L132.03,245.58 L132.55,245.58 L133.06,245.57 L133.58,245.57 L134.09,245.56 L134.61,245.56 L135.13,245.56 L135.64,245.55 L136.16,245.55 L136.67,245.54 L137.19,245.54 L137.70,245.54 L138.22,245.53 L138.73,245.53 L139.25,245.52 L139.76,245.52 L140.28,245.52 L140.79,245.51 L141.31,245.51 L141.82,245.51 L142.34,245.50 L142.85,245.50 L143.37,245.49 L143.88,245.49 L144.40,245.49 L144.91,245.48 L145.43,245.48 L145.94,245.48 L146.46,245.47 L146.97,245.47 L147.49,245.47 L148.00,245.46 L148.52,245.46 L149.03,245.46 L149.55,245.46 L150.06,245.45 L150.58,245.45 L151.09,245.45 L151.61,245.44 L152.12,245.44 L152.64,245.44 L153.15,245.44 L153.67,245.43 L154.18,245.43 L154.70,245.43 L155.21,245.42 L155.73,245.42 L156.24,245.42 L156.76,245.42 L157.27,245.41 L157.79,245.41 L158.30,245.41 L158.82,245.41 L159.33,245.40 L159.85,245.40 L160.36,245.40 L160.88,245.40 L161.39,245.39 L161.91,245.39 L162.42,245.39 L162.94,245.39 L163.45,245.38 L163.97,245.38 L164.48,245.38 L165.00,245.38 L165.51,245.37 L166.03,245.37 L166.54,245.37 L167.06,245.37 L167.57,245.36 L168.09,245.36 L168.60,245.36 L169.12,245.36 L169.63,245.36 L170.15,245.35 L170.66,245.35 L171.18,245.35 L171.69,245.35 L172.21,245.35 L172.72,245.34 L173.24,245.34 L173.75,245.34 L174.27,245.34 L174.78,245.34 L175.30,245.33 L175.81,245.33 L176.33,245.33 L176.84,245.33 L177.36,245.33 L177.87,245.32 L178.39,245.32 L178.90,245.32 L179.42,245.32 L179.93,245.32 L180.45,245.32 L180.96,245.31 L181.48,245.31 L181.99,245.31 L182.51,245.31 L183.02,245.31 L183.54,245.31 L184.05,245.30 L184.57,245.30 L185.08,245.30 L185.60,245.30" fill="none" stroke="#0000ff" stroke-width="1.1" stroke-dasharray="0.85 0.85" />
<path d="M31.60,146.40 L32.12,148.43 L32.63,150.37 L33.15,152.23 L33.66,153.98 L34.18,155.62 L34.69,157.18 L35.21,158.69 L35.72,160.13 L36.24,161.48 L36.75,162.72 L37.27,163.83 L37.78,164.84 L38.30,165.80 L38.81,166.71 L39.33,167.57 L39.84,168.36 L40.36,169.10 L40.87,169.78 L41.39,170.38 L41.90,170.95 L42.42,171.49 L42.93,172.00 L43.45,172.48 L43.96,172.92 L44.48,173.32 L44.99,173.66 L45.51,173.95 L46.02,174.20 L46.54,174.44 L47.05,174.66 L47.57,174.86 L48.08,175.05 L48.60,175.22 L49.11,175.37 L49.63,175.50 L50.14,175.61 L50.66,175.69 L51.17,175.76 L51.69,175.82 L52.20,175.88 L52.72,175.94 L53.23,175.99 L53.75,176.03 L54.26,176.07 L54.78,176.11 L55.29,176.14 L55.81,176.16 L56.32,176.18 L56.84,176.20 L57.35,176.21 L57.87,176.22 L58.38,176.23 L58.90,176.24 L59.41,176.25 L59.93,176.26 L60.44,176.27 L60.96,176.27 L61.47,176.28 L61.99,176.28 L62.50,176.29 L63.02,176.29 L63.53,176.30 L64.05,176.30 L64.56,176.30 L65.08,176.30 L65.59,176.30 L66.11,176.30 L66.62,176.30 L67.14,176.30 L67.65,176.30 L68.17,176.30 L68.68,176.30 L69.20,176.30 L69.71,176.30 L70.23,176.30 L70.74,176.30 L71.26,176.30 L71.77,176.30 L72.29,176.30 L72.80,176.30 L73.32,176.30 L73.83,176.30 L74.35,176.30 L74.86,176.30 L75.38,176.30 L75.89,176.30 L76.41,176.30 L76.92,176.30 L77.44,176.30 L77.95,176.30 L78.47,176.30 L78.98,176.30 L79.50,176.30 L80.01,176.30 L80.53,176.30 L81.04,176.30 L81.56,176.30 L82.07,176.30 L82.59,176.30 L83.11,176.30 L83.62,176.30 L84.14,176.30 L84.65,176.30 L85.17,176.30 L85.68,176.30 L86.20,176.30 L86.71,176.30 L87.23,176.30 L87.74,176.30 L88.26,176.30 L88.77,176.30 L89.29,176.30 L89.80,176.30 L90.32,176.30 L90.83,176.30 L91.35,176.30 L91.86,176.30 L92.38,176.30 L92.89,176.30 L93.41,176.30 L93.92,176.30 L94.44,176.30 L94.95,176.30 L95.47,176.30 L95.98,176.29 L96.50,176.29 L97.01,176.29 L97.53,176.29 L98.04,176.29 L98.56,176.29 L99.07,176.29 L99.59,176.29 L100.10,176.29 L100.62,176.29 L101.13,176.29 L101.65,176.29 L102.16,176.29 L102.68,176.29 L103.19,176.29 L103.71,176.29 L104.22,176.29 L104.74,176.29 L105.25,176.29 L105.77,176.29 L106.28,176.29 L106.80,176.29 L107.31,176.29 L107.83,176.29 L108.34,176.29 L108.86,176.29 L109.37,176.29 L109.89,176.28 L110.40,176.28 L110.92,176.28 L111.43,176.28 L111.95,176.28 L112.46,176.28 L112.98,176.28 L113.49,176.28 L114.01,176.28 L114.52,176.28 L115.04,176.28 L115.55,176.28 L116.07,176.28 L116.58,176.28 L117.10,176.28 L117.61,176.28 L118.13,176.27 L118.64,176.27 L119.16,176.27 L119.67,176.27 L120.19,176.27 L120.70,176.27 L121.22,176.27 L121.73,176.27 L122.25,176.27 L122.76,176.27 L123.28,176.27 L123.79,176.27 L124.31,176.26 L124.82,176.26 L125.34,176.26 L125.85,176.26 L126.37,176.26 L126.88,176.26 L127.40,176.26 L127.91,176.26 L128.43,176.26 L128.94,176.26 L129.46,176.25 L129.97,176.25 L130.49,176.25 L131.00,176.25 L131.52,176.25 L132.03,176.25 L132.55,176.25 L133.06,176.25 L133.58,176.24 L134.09,176.24 L134.61,176.24 L135.13,176.24 L135.64,176.24 L136.16,176.24 L136.67,176.24 L137.19,176.24 L137.70,176.23 L138.22,176.23 L138.73,176.23 L139.25,176.23 L139.76,176.23 L140.28,176.23 L140.79,176.23 L141.31,176.22 L141.82,176.22 L142.34,176.22 L142.85,176.22 L143.37,176.22 L143.88,176.22 L144.40,176.21 L144.91,176.21 L145.43,176.21 L145.94,176.21 L146.46,176.21 L146.97,176.21 L147.49,176.20 L148.00,176.20 L148.52,176.20 L149.03,176.20 L149.55,176.20 L150.06,176.19 L150.58,176.19 L151.09,176.19 L151.61,176.19 L152.12,176.19 L152.64,176.18 L153.15,176.18 L153.67,176.18 L154.18,176.18 L154.70,176.18 L155.21,176.17 L155.73,176.17 L156.24,176.17 L156.76,176.17 L157.27,176.17 L157.79,176.16 L158.30,176.16 L158.82,176.16 L159.33,176.16 L159.85,176.15 L160.36,176.15 L160.88,176.15 L161.39,176.15 L161.91,176.14 L162.42,176.14 L162.94,176.14 L163.45,176.14 L163.97,176.13 L164.48,176.13 L165.00,176.13 L165.51,176.13 L166.03,176.12 L166.54,176.12 L167.06,176.12 L167.57,176.12 L168.09,176.11 L168.60,176.11 L169.12,176.11 L169.63,176.10 L170.15,176.10 L170.66,176.10 L171.18,176.10 L171.69,176.09 L172.21,176.09 L172.72,176.09 L173.24,176.08 L173.75,176.08 L174.27,176.08 L174.78,176.07 L175.30,176.07 L175.81,176.07 L176.33,176.06 L176.84,176.06 L177.36,176.06 L177.87,176.05 L178.39,176.05 L178.90,176.05 L179.42,176.04 L179.93,176.04 L180.45,176.04 L180.96,176.03 L181.48,176.03 L181.99,176.03 L182.51,176.02 L183.02,176.02 L183.54,176.02 L184.05,176.01 L184.57,176.01 L185.08,176.00 L185.60,176.00" fill="none" stroke="#808000" stroke-width="1.0" stroke-dasharray="3.3 2.6" />
<path d="M31.60,224.90 L32.12,225.79 L32.63,226.65 L33.15,227.50 L33.66,228.32 L34.18,229.11 L34.69,229.87 L35.21,230.61 L35.72,231.32 L36.24,232.02 L36.75,232.71 L37.27,233.37 L37.78,234.01 L38.30,234.62 L38.81,235.19 L39.33,235.73 L39.84,236.23 L40.36,236.71 L40.87,237.17 L41.39,237.61 L41.90,238.04 L42.42,238.45 L42.93,238.84 L43.45,239.20 L43.96,239.55 L44.48,239.89 L44.99,240.20 L45.51,240.51 L46.02,240.82 L46.54,241.11 L47.05,241.39 L47.57,241.66 L48.08,241.92 L48.60,242.17 L49.11,242.40 L49.63,242.61 L50.14,242.81 L50.66,242.99 L51.17,243.15 L51.69,243.31 L52.20,243.47 L52.72,243.62 L53.23,243.77 L53.75,243.91 L54.26,244.04 L54.78,244.17 L55.29,244.28 L55.81,244.39 L56.32,244.48 L56.84,244.57 L57.35,244.64 L57.87,244.70 L58.38,244.75 L58.90,244.79 L59.41,244.84 L59.93,244.88 L60.44,244.92 L60.96,244.96 L61.47,245.00 L61.99,245.03 L62.50,245.06 L63.02,245.09 L63.53,245.12 L64.05,245.14 L64.56,245.16 L65.08,245.18 L65.59,245.19 L66.11,245.20 L66.62,245.21 L67.14,245.21 L67.65,245.22 L68.17,245.23 L68.68,245.23 L69.20,245.24 L69.71,245.24 L70.23,245.25 L70.74,245.25 L71.26,245.26 L71.77,245.26 L72.29,245.27 L72.80,245.27 L73.32,245.28 L73.83,245.28 L74.35,245.28 L74.86,245.29 L75.38,245.29 L75.89,245.29 L76.41,245.29 L76.92,245.29 L77.44,245.30 L77.95,245.30 L78.47,245.30 L78.98,245.30 L79.50,245.30 L80.01,245.30 L80.53,245.30 L81.04,245.30 L81.56,245.30 L82.07,245.30 L82.59,245.30 L83.11,245.30 L83.62,245.30 L84.14,245.30 L84.65,245.30 L85.17,245.30 L85.68,245.30 L86.20,245.30 L86.71,245.30 L87.23,245.30 L87.74,245.30 L88.26,245.30 L88.77,245.30 L89.29,245.30 L89.80,245.30 L90.32,245.30 L90.83,245.30 L91.35,245.30 L91.86,245.30 L92.38,245.30 L92.89,245.30 L93.41,245.30 L93.92,245.30 L94.44,245.30 L94.95,245.30 L95.47,245.30 L95.98,245.30 L96.50,245.30 L97.01,245.30 L97.53,245.30 L98.04,245.30 L98.56,245.30 L99.07,245.30 L99.59,245.30 L100.10,245.30 L100.62,245.30 L101.13,245.30 L101.65,245.30 L102.16,245.30 L102.68,245.30 L103.19,245.30 L103.71,245.30 L104.22,245.30 L104.74,245.30 L105.25,245.30 L105.77,245.30 L106.28,245.30 L106.80,245.30 L107.31,245.30 L107.83,245.30 L108.34,245.30 L108.86,245.30 L109.37,245.30 L109.89,245.30 L110.40,245.30 L110.92,245.30 L111.43,245.30 L111.95,245.30 L112.46,245.30 L112.98,245.30 L113.49,245.30 L114.01,245.30 L114.52,245.30 L115.04,245.30 L115.55,245.30 L116.07,245.30 L116.58,245.30 L117.10,245.30 L117.61,245.30 L118.13,245.30 L118.64,245.30 L119.16,245.29 L119.67,245.29 L120.19,245.29 L120.70,245.29 L121.22,245.29 L121.73,245.29 L122.25,245.29 L122.76,245.29 L123.28,245.29 L123.79,245.29 L124.31,245.29 L124.82,245.29 L125.34,245.29 L125.85,245.29 L126.37,245.29 L126.88,245.29 L127.40,245.29 L127.91,245.29 L128.43,245.29 L128.94,245.29 L129.46,245.29 L129.97,245.29 L130.49,245.29 L131.00,245.29 L131.52,245.29 L132.03,245.29 L132.55,245.29 L133.06,245.29 L133.58,245.29 L134.09,245.29 L134.61,245.29 L135.13,245.29 L135.64,245.29 L136.16,245.28 L136.67,245.28 L137.19,245.28 L137.70,245.28 L138.22,245.28 L138.73,245.28 L139.25,245.28 L139.76,245.28 L140.28,245.28 L140.79,245.28 L141.31,245.28 L141.82,245.28 L142.34,245.28 L142.85,245.28 L143.37,245.28 L143.88,245.28 L144.40,245.28 L144.91,245.28 L145.43,245.28 L145.94,245.28 L146.46,245.28 L146.97,245.27 L147.49,245.27 L148.00,245.27 L148.52,245.27 L149.03,245.27 L149.55,245.27 L150.06,245.27 L150.58,245.27 L151.09,245.27 L151.61,245.27 L152.12,245.27 L152.64,245.27 L153.15,245.27 L153.67,245.27 L154.18,245.27 L154.70,245.26 L155.21,245.26 L155.73,245.26 L156.24,245.26 L156.76,245.26 L157.27,245.26 L157.79,245.26 L158.30,245.26 L158.82,245.26 L159.33,245.26 L159.85,245.26 L160.36,245.26 L160.88,245.26 L161.39,245.25 L161.91,245.25 L162.42,245.25 L162.94,245.25 L163.45,245.25 L163.97,245.25 L164.48,245.25 L165.00,245.25 L165.51,245.25 L166.03,245.25 L166.54,245.24 L167.06,245.24 L167.57,245.24 L168.09,245.24 L168.60,245.24 L169.12,245.24 L169.63,245.24 L170.15,245.24 L170.66,245.24 L171.18,245.24 L171.69,245.23 L172.21,245.23 L172.72,245.23 L173.24,245.23 L173.75,245.23 L174.27,245.23 L174.78,245.23 L175.30,245.23 L175.81,245.23 L176.33,245.22 L176.84,245.22 L177.36,245.22 L177.87,245.22 L178.39,245.22 L178.90,245.22 L179.42,245.22 L179.93,245.22 L180.45,245.21 L180.96,245.21 L181.48,245.21 L181.99,245.21 L182.51,245.21 L183.02,245.21 L183.54,245.21 L184.05,245.20 L184.57,245.20 L185.08,245.20 L185.60,245.20" fill="none" stroke="#808000" stroke-width="1.0" stroke-dasharray="3.3 2.6" />
<path d="M35.60,128.00 L36.10,130.28 L36.60,132.47 L37.11,134.53 L37.61,136.47 L38.11,138.26 L38.61,139.89 L39.11,141.38 L39.61,142.76 L40.12,144.08 L40.62,145.37 L41.12,146.66 L41.62,147.99 L42.12,149.34 L42.62,150.70 L43.13,152.05 L43.63,153.37 L44.13,154.64 L44.63,155.85 L45.13,156.99 L45.63,158.08 L46.14,159.14 L46.64,160.15 L47.14,161.13 L47.64,162.07 L48.14,162.96 L48.64,163.81 L49.15,164.62 L49.65,165.41 L50.15,166.18 L50.65,166.92 L51.15,167.62 L51.65,168.28 L52.16,168.89 L52.66,169.45 L53.16,169.96 L53.66,170.43 L54.16,170.88 L54.66,171.30 L55.17,171.70 L55.67,172.07 L56.17,172.42 L56.67,172.75 L57.17,173.07 L57.67,173.37 L58.18,173.65 L58.68,173.91 L59.18,174.15 L59.68,174.37 L60.18,174.57 L60.68,174.75 L61.19,174.92 L61.69,175.07 L62.19,175.21 L62.69,175.33 L63.19,175.44 L63.69,175.54 L64.20,175.63 L64.70,175.72 L65.20,175.79 L65.70,175.85 L66.20,175.90 L66.70,175.94 L67.21,175.98 L67.71,176.01 L68.21,176.04 L68.71,176.07 L69.21,176.10 L69.71,176.12 L70.22,176.15 L70.72,176.16 L71.22,176.18 L71.72,176.19 L72.22,176.20 L72.72,176.21 L73.23,176.22 L73.73,176.23 L74.23,176.24 L74.73,176.25 L75.23,176.26 L75.73,176.27 L76.24,176.27 L76.74,176.28 L77.24,176.29 L77.74,176.29 L78.24,176.29 L78.74,176.30 L79.25,176.30 L79.75,176.30 L80.25,176.30 L80.75,176.30 L81.25,176.30 L81.75,176.30 L82.26,176.30 L82.76,176.30 L83.26,176.30 L83.76,176.30 L84.26,176.30 L84.76,176.30 L85.27,176.30 L85.77,176.30 L86.27,176.30 L86.77,176.30 L87.27,176.30 L87.77,176.30 L88.28,176.30 L88.78,176.30 L89.28,176.30 L89.78,176.30 L90.28,176.30 L90.78,176.30 L91.29,176.30 L91.79,176.30 L92.29,176.30 L92.79,176.30 L93.29,176.30 L93.79,176.30 L94.30,176.30 L94.80,176.30 L95.30,176.30 L95.80,176.30 L96.30,176.30 L96.80,176.30 L97.31,176.30 L97.81,176.30 L98.31,176.30 L98.81,176.30 L99.31,176.30 L99.81,176.30 L100.32,176.30 L100.82,176.30 L101.32,176.30 L101.82,176.30 L102.32,176.30 L102.82,176.30 L103.33,176.30 L103.83,176.30 L104.33,176.30 L104.83,176.30 L105.33,176.30 L105.83,176.30 L106.34,176.30 L106.84,176.30 L107.34,176.29 L107.84,176.29 L108.34,176.29 L108.84,176.29 L109.35,176.29 L109.85,176.29 L110.35,176.29 L110.85,176.29 L111.35,176.29 L111.85,176.29 L112.36,176.29 L112.86,176.29 L113.36,176.29 L113.86,176.29 L114.36,176.29 L114.86,176.29 L115.37,176.29 L115.87,176.29 L116.37,176.29 L116.87,176.29 L117.37,176.29 L117.87,176.29 L118.38,176.29 L118.88,176.29 L119.38,176.28 L119.88,176.28 L120.38,176.28 L120.88,176.28 L121.39,176.28 L121.89,176.28 L122.39,176.28 L122.89,176.28 L123.39,176.28 L123.89,176.28 L124.40,176.28 L124.90,176.28 L125.40,176.28 L125.90,176.28 L126.40,176.27 L126.90,176.27 L127.41,176.27 L127.91,176.27 L128.41,176.27 L128.91,176.27 L129.41,176.27 L129.91,176.27 L130.42,176.27 L130.92,176.27 L131.42,176.27 L131.92,176.26 L132.42,176.26 L132.92,176.26 L133.43,176.26 L133.93,176.26 L134.43,176.26 L134.93,176.26 L135.43,176.26 L135.93,176.26 L136.44,176.25 L136.94,176.25 L137.44,176.25 L137.94,176.25 L138.44,176.25 L138.94,176.25 L139.45,176.25 L139.95,176.25 L140.45,176.24 L140.95,176.24 L141.45,176.24 L141.95,176.24 L142.46,176.24 L142.96,176.24 L143.46,176.23 L143.96,176.23 L144.46,176.23 L144.96,176.23 L145.47,176.23 L145.97,176.23 L146.47,176.23 L146.97,176.22 L147.47,176.22 L147.97,176.22 L148.48,176.22 L148.98,176.22 L149.48,176.21 L149.98,176.21 L150.48,176.21 L150.98,176.21 L151.49,176.21 L151.99,176.20 L152.49,176.20 L152.99,176.20 L153.49,176.20 L153.99,176.20 L154.50,176.19 L155.00,176.19 L155.50,176.19 L156.00,176.19 L156.50,176.19 L157.00,176.18 L157.51,176.18 L158.01,176.18 L158.51,176.18 L159.01,176.17 L159.51,176.17 L160.01,176.17 L160.52,176.17 L161.02,176.16 L161.52,176.16 L162.02,176.16 L162.52,176.16 L163.02,176.15 L163.53,176.15 L164.03,176.15 L164.53,176.15 L165.03,176.14 L165.53,176.14 L166.03,176.14 L166.54,176.13 L167.04,176.13 L167.54,176.13 L168.04,176.13 L168.54,176.12 L169.04,176.12 L169.55,176.12 L170.05,176.11 L170.55,176.11 L171.05,176.11 L171.55,176.10 L172.05,176.10 L172.56,176.10 L173.06,176.09 L173.56,176.09 L174.06,176.09 L174.56,176.08 L175.06,176.08 L175.57,176.08 L176.07,176.07 L176.57,176.07 L177.07,176.07 L177.57,176.06 L178.07,176.06 L178.58,176.06 L179.08,176.05 L179.58,176.05 L180.08,176.04 L180.58,176.04 L181.08,176.04 L181.59,176.03 L182.09,176.03 L182.59,176.02 L183.09,176.02 L183.59,176.02 L184.09,176.01 L184.60,176.01 L185.10,176.00 L185.60,176.00" fill="none" stroke="#800000" stroke-width="0.9" stroke-dasharray="3 1.2 0.8 1.2" />
<path d="M31.60,202.20 L32.12,203.11 L32.63,204.02 L33.15,204.91 L33.66,205.80 L34.18,206.68 L34.69,207.55 L35.21,208.41 L35.72,209.26 L36.24,210.10 L36.75,210.94 L37.27,211.77 L37.78,212.59 L38.30,213.40 L38.81,214.20 L39.33,214.99 L39.84,215.77 L40.36,216.54 L40.87,217.31 L41.39,218.07 L41.90,218.82 L42.42,219.56 L42.93,220.29 L43.45,221.00 L43.96,221.70 L44.48,222.37 L44.99,223.03 L45.51,223.68 L46.02,224.32 L46.54,224.95 L47.05,225.57 L47.57,226.18 L48.08,226.78 L48.60,227.36 L49.11,227.93 L49.63,228.49 L50.14,229.03 L50.66,229.56 L51.17,230.07 L51.69,230.58 L52.20,231.09 L52.72,231.59 L53.23,232.08 L53.75,232.56 L54.26,233.03 L54.78,233.49 L55.29,233.93 L55.81,234.36 L56.32,234.77 L56.84,235.16 L57.35,235.53 L57.87,235.88 L58.38,236.21 L58.90,236.54 L59.41,236.86 L59.93,237.17 L60.44,237.47 L60.96,237.76 L61.47,238.05 L61.99,238.32 L62.50,238.59 L63.02,238.84 L63.53,239.09 L64.05,239.33 L64.56,239.55 L65.08,239.77 L65.59,239.97 L66.11,240.17 L66.62,240.35 L67.14,240.53 L67.65,240.70 L68.17,240.87 L68.68,241.03 L69.20,241.19 L69.71,241.34 L70.23,241.49 L70.74,241.63 L71.26,241.76 L71.77,241.89 L72.29,242.02 L72.80,242.14 L73.32,242.26 L73.83,242.37 L74.35,242.47 L74.86,242.57 L75.38,242.67 L75.89,242.77 L76.41,242.86 L76.92,242.96 L77.44,243.05 L77.95,243.14 L78.47,243.22 L78.98,243.30 L79.50,243.38 L80.01,243.46 L80.53,243.53 L81.04,243.60 L81.56,243.67 L82.07,243.73 L82.59,243.78 L83.11,243.84 L83.62,243.88 L84.14,243.93 L84.65,243.97 L85.17,244.01 L85.68,244.05 L86.20,244.09 L86.71,244.13 L87.23,244.17 L87.74,244.21 L88.26,244.24 L88.77,244.28 L89.29,244.31 L89.80,244.34 L90.32,244.37 L90.83,244.41 L91.35,244.44 L91.86,244.46 L92.38,244.49 L92.89,244.52 L93.41,244.55 L93.92,244.57 L94.44,244.60 L94.95,244.62 L95.47,244.64 L95.98,244.66 L96.50,244.68 L97.01,244.70 L97.53,244.72 L98.04,244.74 L98.56,244.76 L99.07,244.77 L99.59,244.79 L100.10,244.80 L100.62,244.82 L101.13,244.83 L101.65,244.84 L102.16,244.86 L102.68,244.87 L103.19,244.88 L103.71,244.89 L104.22,244.91 L104.74,244.92 L105.25,244.93 L105.77,244.94 L106.28,244.95 L106.80,244.96 L107.31,244.97 L107.83,244.98 L108.34,244.99 L108.86,245.00 L109.37,245.01 L109.89,245.02 L110.40,245.03 L110.92,245.04 L111.43,245.05 L111.95,245.06 L112.46,245.06 L112.98,245.07 L113.49,245.08 L114.01,245.09 L114.52,245.09 L115.04,245.10 L115.55,245.11 L116.07,245.11 L116.58,245.12 L117.10,245.12 L117.61,245.13 L118.13,245.13 L118.64,245.14 L119.16,245.14 L119.67,245.15 L120.19,245.15 L120.70,245.16 L121.22,245.16 L121.73,245.16 L122.25,245.17 L122.76,245.17 L123.28,245.18 L123.79,245.18 L124.31,245.18 L124.82,245.19 L125.34,245.19 L125.85,245.19 L126.37,245.20 L126.88,245.20 L127.40,245.20 L127.91,245.21 L128.43,245.21 L128.94,245.21 L129.46,245.22 L129.97,245.22 L130.49,245.22 L131.00,245.22 L131.52,245.23 L132.03,245.23 L132.55,245.23 L133.06,245.23 L133.58,245.24 L134.09,245.24 L134.61,245.24 L135.13,245.24 L135.64,245.24 L136.16,245.24 L136.67,245.25 L137.19,245.25 L137.70,245.25 L138.22,245.25 L138.73,245.25 L139.25,245.25 L139.76,245.25 L140.28,245.25 L140.79,245.25 L141.31,245.25 L141.82,245.25 L142.34,245.25 L142.85,245.25 L143.37,245.25 L143.88,245.25 L144.40,245.25 L144.91,245.25 L145.43,245.25 L145.94,245.25 L146.46,245.25 L146.97,245.25 L147.49,245.25 L148.00,245.25 L148.52,245.25 L149.03,245.25 L149.55,245.25 L150.06,245.25 L150.58,245.25 L151.09,245.25 L151.61,245.25 L152.12,245.25 L152.64,245.25 L153.15,245.25 L153.67,245.25 L154.18,245.25 L154.70,245.25 L155.21,245.25 L155.73,245.25 L156.24,245.25 L156.76,245.25 L157.27,245.25 L157.79,245.25 L158.30,245.25 L158.82,245.25 L159.33,245.25 L159.85,245.25 L160.36,245.25 L160.88,245.25 L161.39,245.24 L161.91,245.24 L162.42,245.24 L162.94,245.24 L163.45,245.24 L163.97,245.24 L164.48,245.24 L165.00,245.24 L165.51,245.24 L166.03,245.24 L166.54,245.24 L167.06,245.24 L167.57,245.24 L168.09,245.24 L168.60,245.24 L169.12,245.24 L169.63,245.24 L170.15,245.24 L170.66,245.23 L171.18,245.23 L171.69,245.23 L172.21,245.23 L172.72,245.23 L173.24,245.23 L173.75,245.23 L174.27,245.23 L174.78,245.23 L175.30,245.23 L175.81,245.23 L176.33,245.22 L176.84,245.22 L177.36,245.22 L177.87,245.22 L178.39,245.22 L178.90,245.22 L179.42,245.22 L179.93,245.22 L180.45,245.22 L180.96,245.21 L181.48,245.21 L181.99,245.21 L182.51,245.21 L183.02,245.21 L183.54,245.21 L184.05,245.20 L184.57,245.20 L185.08,245.20 L185.60,245.20" fill="none" stroke="#800000" stroke-width="0.9" stroke-dasharray="3 1.2 0.8 1.2" />
</g>
<g clip-path="url(#cb)">
<path d="M31.60,380.80 L32.57,380.44 L33.54,380.08 L34.51,379.71 L35.47,379.33 L36.44,378.96 L37.41,378.57 L38.38,378.19 L39.35,377.80 L40.32,377.40 L41.29,377.00 L42.25,376.60 L43.22,376.19 L44.19,375.78 L45.16,375.36 L46.13,374.94 L47.10,374.51 L48.07,374.08 L49.03,373.64 L50.00,373.20 L50.97,372.76 L51.94,372.30 L52.91,371.85 L53.88,371.39 L54.85,370.93 L55.81,370.46 L56.78,369.99 L57.75,369.52 L58.72,369.04 L59.69,368.56 L60.66,368.08 L61.63,367.59 L62.59,367.10 L63.56,366.61 L64.53,366.12 L65.50,365.61 L66.47,365.11 L67.44,364.60 L68.41,364.09 L69.37,363.57 L70.34,363.05 L71.31,362.52 L72.28,361.99 L73.25,361.46 L74.22,360.93 L75.18,360.39 L76.15,359.85 L77.12,359.31 L78.09,358.77 L79.06,358.22 L80.03,357.67 L81.00,357.12 L81.96,356.56 L82.93,356.00 L83.90,355.44 L84.87,354.87 L85.84,354.30 L86.81,353.72 L87.78,353.15 L88.74,352.57 L89.71,351.98 L90.68,351.40 L91.65,350.81 L92.62,350.23 L93.59,349.64 L94.56,349.05 L95.52,348.46 L96.49,347.87 L97.46,347.28 L98.43,346.69 L99.40,346.11 L100.37,345.52 L101.34,344.94 L102.30,344.35 L103.27,343.75 L104.24,343.15 L105.21,342.54 L106.18,341.92 L107.15,341.28 L108.12,340.64 L109.08,339.98 L110.05,339.31 L111.02,338.64 L111.99,337.95 L112.96,337.26 L113.93,336.56 L114.90,335.86 L115.86,335.14 L116.83,334.42 L117.80,333.69 L118.77,332.95 L119.74,332.21 L120.71,331.46 L121.68,330.71 L122.64,329.95 L123.61,329.18 L124.58,328.41 L125.55,327.63 L126.52,326.85 L127.49,326.05 L128.46,325.25 L129.42,324.43 L130.39,323.61 L131.36,322.78 L132.33,321.95 L133.30,321.10 L134.27,320.25 L135.24,319.40 L136.20,318.54 L137.17,317.67 L138.14,316.80 L139.11,315.93 L140.08,315.05 L141.05,314.17 L142.02,313.29 L142.98,312.40 L143.95,311.51 L144.92,310.62 L145.89,309.73 L146.86,308.83 L147.83,307.93 L148.79,307.02 L149.76,306.11 L150.73,305.19 L151.70,304.27 L152.67,303.34 L153.64,302.40 L154.61,301.46 L155.57,300.51 L156.54,299.55 L157.51,298.59 L158.48,297.61 L159.45,296.63 L160.42,295.64 L161.39,294.64 L162.35,293.63 L163.32,292.62 L164.29,291.60 L165.26,290.57 L166.23,289.53 L167.20,288.49 L168.17,287.43 L169.13,286.37 L170.10,285.30 L171.07,284.22 L172.04,283.13 L173.01,282.03 L173.98,280.93 L174.95,279.81 L175.91,278.68 L176.88,277.55 L177.85,276.40 L178.82,275.22 L179.79,274.04 L180.76,272.83 L181.73,271.61 L182.69,270.37 L183.66,269.12 L184.63,267.87 L185.60,266.60" fill="none" stroke="#0000ff" stroke-width="1.2" stroke-dasharray="0.85 0.85" />
<path d="M31.60,380.80 L32.57,380.44 L33.54,380.08 L34.51,379.71 L35.47,379.33 L36.44,378.96 L37.41,378.57 L38.38,378.19 L39.35,377.80 L40.32,377.40 L41.29,377.00 L42.25,376.60 L43.22,376.19 L44.19,375.78 L45.16,375.36 L46.13,374.94 L47.10,374.51 L48.07,374.08 L49.03,373.64 L50.00,373.20 L50.97,372.76 L51.94,372.30 L52.91,371.85 L53.88,371.39 L54.85,370.93 L55.81,370.46 L56.78,369.99 L57.75,369.52 L58.72,369.04 L59.69,368.56 L60.66,368.08 L61.63,367.59 L62.59,367.10 L63.56,366.61 L64.53,366.12 L65.50,365.61 L66.47,365.11 L67.44,364.60 L68.41,364.09 L69.37,363.57 L70.34,363.05 L71.31,362.52 L72.28,361.99 L73.25,361.46 L74.22,360.93 L75.18,360.39 L76.15,359.85 L77.12,359.31 L78.09,358.77 L79.06,358.22 L80.03,357.67 L81.00,357.12 L81.96,356.56 L82.93,356.00 L83.90,355.44 L84.87,354.87 L85.84,354.30 L86.81,353.72 L87.78,353.15 L88.74,352.57 L89.71,351.98 L90.68,351.40 L91.65,350.81 L92.62,350.23 L93.59,349.64 L94.56,349.05 L95.52,348.46 L96.49,347.87 L97.46,347.28 L98.43,346.69 L99.40,346.11 L100.37,345.52 L101.34,344.94 L102.30,344.35 L103.27,343.75 L104.24,343.15 L105.21,342.54 L106.18,341.92 L107.15,341.28 L108.12,340.64 L109.08,339.98 L110.05,339.31 L111.02,338.64 L111.99,337.95 L112.96,337.26 L113.93,336.56 L114.90,335.86 L115.86,335.14 L116.83,334.42 L117.80,333.69 L118.77,332.95 L119.74,332.21 L120.71,331.46 L121.68,330.71 L122.64,329.95 L123.61,329.18 L124.58,328.41 L125.55,327.63 L126.52,326.85 L127.49,326.05 L128.46,325.25 L129.42,324.43 L130.39,323.61 L131.36,322.78 L132.33,321.95 L133.30,321.10 L134.27,320.25 L135.24,319.40 L136.20,318.54 L137.17,317.67 L138.14,316.80 L139.11,315.93 L140.08,315.05 L141.05,314.17 L142.02,313.29 L142.98,312.40 L143.95,311.51 L144.92,310.62 L145.89,309.73 L146.86,308.83 L147.83,307.93 L148.79,307.02 L149.76,306.11 L150.73,305.19 L151.70,304.27 L152.67,303.34 L153.64,302.40 L154.61,301.46 L155.57,300.51 L156.54,299.55 L157.51,298.59 L158.48,297.61 L159.45,296.63 L160.42,295.64 L161.39,294.64 L162.35,293.63 L163.32,292.62 L164.29,291.60 L165.26,290.57 L166.23,289.53 L167.20,288.49 L168.17,287.43 L169.13,286.37 L170.10,285.30 L171.07,284.22 L172.04,283.13 L173.01,282.03 L173.98,280.93 L174.95,279.81 L175.91,278.68 L176.88,277.55 L177.85,276.40 L178.82,275.22 L179.79,274.04 L180.76,272.83 L181.73,271.61 L182.69,270.37 L183.66,269.12 L184.63,267.87 L185.60,266.60" fill="none" stroke="#800000" stroke-width="0.9" stroke-dasharray="3 1.2 0.8 1.2" />
<path d="M31.60,383.60 L32.57,383.16 L33.54,382.73 L34.51,382.29 L35.47,381.85 L36.44,381.41 L37.41,380.97 L38.38,380.52 L39.35,380.08 L40.32,379.63 L41.29,379.18 L42.25,378.73 L43.22,378.28 L44.19,377.82 L45.16,377.37 L46.13,376.91 L47.10,376.45 L48.07,376.00 L49.03,375.54 L50.00,375.08 L50.97,374.62 L51.94,374.16 L52.91,373.70 L53.88,373.23 L54.85,372.77 L55.81,372.30 L56.78,371.82 L57.75,371.35 L58.72,370.87 L59.69,370.38 L60.66,369.89 L61.63,369.40 L62.59,368.90 L63.56,368.40 L64.53,367.89 L65.50,367.38 L66.47,366.86 L67.44,366.34 L68.41,365.82 L69.37,365.29 L70.34,364.76 L71.31,364.22 L72.28,363.68 L73.25,363.14 L74.22,362.59 L75.18,362.05 L76.15,361.49 L77.12,360.94 L78.09,360.39 L79.06,359.83 L80.03,359.27 L81.00,358.70 L81.96,358.13 L82.93,357.56 L83.90,356.98 L84.87,356.40 L85.84,355.81 L86.81,355.22 L87.78,354.63 L88.74,354.04 L89.71,353.45 L90.68,352.85 L91.65,352.25 L92.62,351.65 L93.59,351.06 L94.56,350.46 L95.52,349.87 L96.49,349.27 L97.46,348.68 L98.43,348.09 L99.40,347.51 L100.37,346.93 L101.34,346.36 L102.30,345.78 L103.27,345.19 L104.24,344.60 L105.21,344.00 L106.18,343.39 L107.15,342.76 L108.12,342.12 L109.08,341.47 L110.05,340.80 L111.02,340.13 L111.99,339.45 L112.96,338.76 L113.93,338.06 L114.90,337.35 L115.86,336.63 L116.83,335.91 L117.80,335.17 L118.77,334.44 L119.74,333.69 L120.71,332.94 L121.68,332.18 L122.64,331.42 L123.61,330.65 L124.58,329.88 L125.55,329.10 L126.52,328.31 L127.49,327.52 L128.46,326.71 L129.42,325.89 L130.39,325.07 L131.36,324.24 L132.33,323.40 L133.30,322.55 L134.27,321.70 L135.24,320.85 L136.20,319.98 L137.17,319.12 L138.14,318.25 L139.11,317.37 L140.08,316.49 L141.05,315.61 L142.02,314.73 L142.98,313.85 L143.95,312.97 L144.92,312.08 L145.89,311.19 L146.86,310.29 L147.83,309.40 L148.79,308.50 L149.76,307.59 L150.73,306.68 L151.70,305.76 L152.67,304.84 L153.64,303.91 L154.61,302.97 L155.57,302.02 L156.54,301.07 L157.51,300.11 L158.48,299.14 L159.45,298.16 L160.42,297.17 L161.39,296.17 L162.35,295.16 L163.32,294.15 L164.29,293.12 L165.26,292.09 L166.23,291.04 L167.20,289.99 L168.17,288.94 L169.13,287.87 L170.10,286.79 L171.07,285.71 L172.04,284.62 L173.01,283.52 L173.98,282.42 L174.95,281.30 L175.91,280.18 L176.88,279.05 L177.85,277.91 L178.82,276.76 L179.79,275.59 L180.76,274.40 L181.73,273.20 L182.69,271.99 L183.66,270.77 L184.63,269.54 L185.60,268.30" fill="none" stroke="#ff0000" stroke-width="1.05" />
<path d="M31.60,384.60 L32.57,384.36 L33.54,384.12 L34.51,383.87 L35.47,383.62 L36.44,383.36 L37.41,383.10 L38.38,382.83 L39.35,382.56 L40.32,382.28 L41.29,382.00 L42.25,381.72 L43.22,381.43 L44.19,381.14 L45.16,380.84 L46.13,380.54 L47.10,380.23 L48.07,379.92 L49.03,379.59 L50.00,379.27 L50.97,378.93 L51.94,378.60 L52.91,378.25 L53.88,377.91 L54.85,377.56 L55.81,377.21 L56.78,376.85 L57.75,376.50 L58.72,376.14 L59.69,375.78 L60.66,375.42 L61.63,375.06 L62.59,374.70 L63.56,374.34 L64.53,373.98 L65.50,373.62 L66.47,373.25 L67.44,372.89 L68.41,372.52 L69.37,372.15 L70.34,371.77 L71.31,371.40 L72.28,371.02 L73.25,370.64 L74.22,370.26 L75.18,369.87 L76.15,369.49 L77.12,369.09 L78.09,368.70 L79.06,368.31 L80.03,367.91 L81.00,367.50 L81.96,367.10 L82.93,366.70 L83.90,366.29 L84.87,365.88 L85.84,365.47 L86.81,365.05 L87.78,364.63 L88.74,364.21 L89.71,363.78 L90.68,363.35 L91.65,362.92 L92.62,362.48 L93.59,362.04 L94.56,361.59 L95.52,361.14 L96.49,360.69 L97.46,360.23 L98.43,359.76 L99.40,359.29 L100.37,358.81 L101.34,358.32 L102.30,357.82 L103.27,357.32 L104.24,356.82 L105.21,356.31 L106.18,355.79 L107.15,355.27 L108.12,354.74 L109.08,354.20 L110.05,353.66 L111.02,353.12 L111.99,352.57 L112.96,352.01 L113.93,351.46 L114.90,350.89 L115.86,350.32 L116.83,349.75 L117.80,349.17 L118.77,348.58 L119.74,347.99 L120.71,347.40 L121.68,346.79 L122.64,346.19 L123.61,345.58 L124.58,344.96 L125.55,344.34 L126.52,343.71 L127.49,343.08 L128.46,342.43 L129.42,341.79 L130.39,341.13 L131.36,340.47 L132.33,339.80 L133.30,339.13 L134.27,338.45 L135.24,337.77 L136.20,337.08 L137.17,336.38 L138.14,335.68 L139.11,334.98 L140.08,334.27 L141.05,333.56 L142.02,332.84 L142.98,332.11 L143.95,331.39 L144.92,330.66 L145.89,329.92 L146.86,329.19 L147.83,328.44 L148.79,327.69 L149.76,326.94 L150.73,326.18 L151.70,325.41 L152.67,324.63 L153.64,323.85 L154.61,323.05 L155.57,322.24 L156.54,321.43 L157.51,320.60 L158.48,319.76 L159.45,318.91 L160.42,318.05 L161.39,317.17 L162.35,316.29 L163.32,315.39 L164.29,314.48 L165.26,313.55 L166.23,312.62 L167.20,311.67 L168.17,310.72 L169.13,309.75 L170.10,308.76 L171.07,307.77 L172.04,306.76 L173.01,305.74 L173.98,304.71 L174.95,303.67 L175.91,302.61 L176.88,301.54 L177.85,300.45 L178.82,299.34 L179.79,298.19 L180.76,297.02 L181.73,295.83 L182.69,294.62 L183.66,293.39 L184.63,292.15 L185.60,290.90" fill="none" stroke="#808000" stroke-width="1.0" stroke-dasharray="3.3 2.6" />
<path d="M31.60,386.00 L32.57,385.89 L33.54,385.78 L34.51,385.67 L35.47,385.55 L36.44,385.44 L37.41,385.31 L38.38,385.19 L39.35,385.06 L40.32,384.92 L41.29,384.79 L42.25,384.65 L43.22,384.51 L44.19,384.37 L45.16,384.22 L46.13,384.07 L47.10,383.92 L48.07,383.76 L49.03,383.60 L50.00,383.43 L50.97,383.26 L51.94,383.09 L52.91,382.91 L53.88,382.73 L54.85,382.55 L55.81,382.36 L56.78,382.17 L57.75,381.98 L58.72,381.79 L59.69,381.59 L60.66,381.40 L61.63,381.20 L62.59,381.00 L63.56,380.80 L64.53,380.60 L65.50,380.39 L66.47,380.18 L67.44,379.96 L68.41,379.75 L69.37,379.53 L70.34,379.31 L71.31,379.08 L72.28,378.85 L73.25,378.62 L74.22,378.39 L75.18,378.15 L76.15,377.92 L77.12,377.68 L78.09,377.43 L79.06,377.19 L80.03,376.94 L81.00,376.69 L81.96,376.44 L82.93,376.18 L83.90,375.92 L84.87,375.65 L85.84,375.38 L86.81,375.11 L87.78,374.83 L88.74,374.56 L89.71,374.28 L90.68,374.00 L91.65,373.71 L92.62,373.43 L93.59,373.14 L94.56,372.86 L95.52,372.57 L96.49,372.28 L97.46,371.99 L98.43,371.70 L99.40,371.42 L100.37,371.13 L101.34,370.84 L102.30,370.54 L103.27,370.24 L104.24,369.94 L105.21,369.63 L106.18,369.32 L107.15,368.99 L108.12,368.66 L109.08,368.32 L110.05,367.98 L111.02,367.63 L111.99,367.28 L112.96,366.92 L113.93,366.55 L114.90,366.18 L115.86,365.81 L116.83,365.43 L117.80,365.04 L118.77,364.64 L119.74,364.24 L120.71,363.84 L121.68,363.42 L122.64,363.00 L123.61,362.57 L124.58,362.13 L125.55,361.68 L126.52,361.23 L127.49,360.76 L128.46,360.27 L129.42,359.78 L130.39,359.28 L131.36,358.76 L132.33,358.24 L133.30,357.71 L134.27,357.17 L135.24,356.62 L136.20,356.07 L137.17,355.51 L138.14,354.94 L139.11,354.38 L140.08,353.80 L141.05,353.23 L142.02,352.65 L142.98,352.07 L143.95,351.48 L144.92,350.89 L145.89,350.29 L146.86,349.68 L147.83,349.06 L148.79,348.44 L149.76,347.81 L150.73,347.17 L151.70,346.53 L152.67,345.89 L153.64,345.24 L154.61,344.58 L155.57,343.92 L156.54,343.26 L157.51,342.59 L158.48,341.92 L159.45,341.24 L160.42,340.57 L161.39,339.89 L162.35,339.21 L163.32,338.53 L164.29,337.84 L165.26,337.15 L166.23,336.46 L167.20,335.76 L168.17,335.05 L169.13,334.33 L170.10,333.61 L171.07,332.88 L172.04,332.14 L173.01,331.39 L173.98,330.63 L174.95,329.86 L175.91,329.08 L176.88,328.28 L177.85,327.47 L178.82,326.63 L179.79,325.77 L180.76,324.90 L181.73,324.00 L182.69,323.09 L183.66,322.17 L184.63,321.24 L185.60,320.30" fill="none" stroke="#008080" stroke-width="0.95" stroke-dasharray="3 1.2 0.8 1.2 0.8 1.2" />
</g>
<g clip-path="url(#cc)">
<path d="M31.50,459.10 L32.47,458.95 L33.44,458.80 L34.41,458.64 L35.38,458.48 L36.35,458.32 L37.32,458.15 L38.28,457.99 L39.25,457.81 L40.22,457.64 L41.19,457.46 L42.16,457.28 L43.13,457.10 L44.10,456.92 L45.07,456.73 L46.04,456.54 L47.01,456.35 L47.98,456.15 L48.95,455.95 L49.91,455.75 L50.88,455.54 L51.85,455.33 L52.82,455.12 L53.79,454.90 L54.76,454.68 L55.73,454.46 L56.70,454.24 L57.67,454.01 L58.64,453.79 L59.61,453.55 L60.58,453.32 L61.54,453.08 L62.51,452.84 L63.48,452.59 L64.45,452.34 L65.42,452.09 L66.39,451.84 L67.36,451.58 L68.33,451.32 L69.30,451.06 L70.27,450.80 L71.24,450.53 L72.21,450.26 L73.17,449.99 L74.14,449.71 L75.11,449.43 L76.08,449.15 L77.05,448.86 L78.02,448.57 L78.99,448.28 L79.96,447.98 L80.93,447.69 L81.90,447.39 L82.87,447.08 L83.84,446.78 L84.81,446.47 L85.77,446.16 L86.74,445.84 L87.71,445.52 L88.68,445.20 L89.65,444.88 L90.62,444.55 L91.59,444.22 L92.56,443.89 L93.53,443.55 L94.50,443.21 L95.47,442.87 L96.44,442.53 L97.40,442.18 L98.37,441.83 L99.34,441.48 L100.31,441.12 L101.28,440.76 L102.25,440.40 L103.22,440.03 L104.19,439.66 L105.16,439.29 L106.13,438.92 L107.10,438.54 L108.07,438.16 L109.03,437.78 L110.00,437.39 L110.97,437.01 L111.94,436.61 L112.91,436.22 L113.88,435.82 L114.85,435.42 L115.82,435.02 L116.79,434.61 L117.76,434.20 L118.73,433.79 L119.70,433.37 L120.66,432.95 L121.63,432.53 L122.60,432.11 L123.57,431.68 L124.54,431.25 L125.51,430.82 L126.48,430.38 L127.45,429.94 L128.42,429.50 L129.39,429.06 L130.36,428.61 L131.33,428.16 L132.29,427.70 L133.26,427.25 L134.23,426.79 L135.20,426.33 L136.17,425.86 L137.14,425.39 L138.11,424.92 L139.08,424.45 L140.05,423.97 L141.02,423.49 L141.99,423.01 L142.96,422.52 L143.93,422.03 L144.89,421.54 L145.86,421.04 L146.83,420.55 L147.80,420.05 L148.77,419.54 L149.74,419.04 L150.71,418.53 L151.68,418.01 L152.65,417.50 L153.62,416.98 L154.59,416.46 L155.56,415.93 L156.52,415.41 L157.49,414.88 L158.46,414.34 L159.43,413.81 L160.40,413.27 L161.37,412.73 L162.34,412.18 L163.31,411.63 L164.28,411.08 L165.25,410.53 L166.22,409.97 L167.19,409.41 L168.15,408.85 L169.12,408.28 L170.09,407.71 L171.06,407.14 L172.03,406.57 L173.00,405.99 L173.97,405.41 L174.94,404.83 L175.91,404.24 L176.88,403.65 L177.85,403.06 L178.82,402.47 L179.78,401.87 L180.75,401.27 L181.72,400.66 L182.69,400.06 L183.66,399.45 L184.63,398.83 L185.60,398.22" fill="none" stroke="#0000ff" stroke-width="1.1" stroke-dasharray="0.85 0.85" />
<path d="M31.50,459.10 L32.47,458.95 L33.44,458.80 L34.41,458.64 L35.38,458.48 L36.35,458.32 L37.32,458.15 L38.28,457.99 L39.25,457.81 L40.22,457.64 L41.19,457.46 L42.16,457.28 L43.13,457.10 L44.10,456.92 L45.07,456.73 L46.04,456.54 L47.01,456.35 L47.98,456.15 L48.95,455.95 L49.91,455.75 L50.88,455.54 L51.85,455.33 L52.82,455.12 L53.79,454.90 L54.76,454.68 L55.73,454.46 L56.70,454.24 L57.67,454.01 L58.64,453.79 L59.61,453.55 L60.58,453.32 L61.54,453.08 L62.51,452.84 L63.48,452.59 L64.45,452.34 L65.42,452.09 L66.39,451.84 L67.36,451.58 L68.33,451.32 L69.30,451.06 L70.27,450.80 L71.24,450.53 L72.21,450.26 L73.17,449.99 L74.14,449.71 L75.11,449.43 L76.08,449.15 L77.05,448.86 L78.02,448.57 L78.99,448.28 L79.96,447.98 L80.93,447.69 L81.90,447.39 L82.87,447.08 L83.84,446.78 L84.81,446.47 L85.77,446.16 L86.74,445.84 L87.71,445.52 L88.68,445.20 L89.65,444.88 L90.62,444.55 L91.59,444.22 L92.56,443.89 L93.53,443.55 L94.50,443.21 L95.47,442.87 L96.44,442.53 L97.40,442.18 L98.37,441.83 L99.34,441.48 L100.31,441.12 L101.28,440.76 L102.25,440.40 L103.22,440.03 L104.19,439.66 L105.16,439.29 L106.13,438.92 L107.10,438.54 L108.07,438.16 L109.03,437.78 L110.00,437.39 L110.97,437.01 L111.94,436.61 L112.91,436.22 L113.88,435.82 L114.85,435.42 L115.82,435.02 L116.79,434.61 L117.76,434.20 L118.73,433.79 L119.70,433.37 L120.66,432.95 L121.63,432.53 L122.60,432.11 L123.57,431.68 L124.54,431.25 L125.51,430.82 L126.48,430.38 L127.45,429.94 L128.42,429.50 L129.39,429.06 L130.36,428.61 L131.33,428.16 L132.29,427.70 L133.26,427.25 L134.23,426.79 L135.20,426.33 L136.17,425.86 L137.14,425.39 L138.11,424.92 L139.08,424.45 L140.05,423.97 L141.02,423.49 L141.99,423.01 L142.96,422.52 L143.93,422.03 L144.89,421.54 L145.86,421.04 L146.83,420.55 L147.80,420.05 L148.77,419.54 L149.74,419.04 L150.71,418.53 L151.68,418.01 L152.65,417.50 L153.62,416.98 L154.59,416.46 L155.56,415.93 L156.52,415.41 L157.49,414.88 L158.46,414.34 L159.43,413.81 L160.40,413.27 L161.37,412.73 L162.34,412.18 L163.31,411.63 L164.28,411.08 L165.25,410.53 L166.22,409.97 L167.19,409.41 L168.15,408.85 L169.12,408.28 L170.09,407.71 L171.06,407.14 L172.03,406.57 L173.00,405.99 L173.97,405.41 L174.94,404.83 L175.91,404.24 L176.88,403.65 L177.85,403.06 L178.82,402.47 L179.78,401.87 L180.75,401.27 L181.72,400.66 L182.69,400.06 L183.66,399.45 L184.63,398.83 L185.60,398.22" fill="none" stroke="#800000" stroke-width="0.8" stroke-dasharray="3 1.2 0.8 1.2" />
<path d="M31.50,519.29 L32.47,519.13 L33.44,518.98 L34.41,518.82 L35.38,518.66 L36.35,518.49 L37.32,518.33 L38.28,518.16 L39.25,517.99 L40.22,517.81 L41.19,517.64 L42.16,517.46 L43.13,517.28 L44.10,517.09 L45.07,516.91 L46.04,516.72 L47.01,516.53 L47.98,516.33 L48.95,516.14 L49.91,515.93 L50.88,515.73 L51.85,515.52 L52.82,515.32 L53.79,515.10 L54.76,514.89 L55.73,514.67 L56.70,514.46 L57.67,514.24 L58.64,514.01 L59.61,513.79 L60.58,513.56 L61.54,513.32 L62.51,513.09 L63.48,512.85 L64.45,512.61 L65.42,512.37 L66.39,512.12 L67.36,511.87 L68.33,511.62 L69.30,511.37 L70.27,511.11 L71.24,510.85 L72.21,510.59 L73.17,510.33 L74.14,510.06 L75.11,509.79 L76.08,509.52 L77.05,509.24 L78.02,508.97 L78.99,508.69 L79.96,508.40 L80.93,508.12 L81.90,507.83 L82.87,507.54 L83.84,507.25 L84.81,506.95 L85.77,506.65 L86.74,506.35 L87.71,506.05 L88.68,505.74 L89.65,505.43 L90.62,505.12 L91.59,504.80 L92.56,504.48 L93.53,504.16 L94.50,503.84 L95.47,503.52 L96.44,503.19 L97.40,502.86 L98.37,502.53 L99.34,502.19 L100.31,501.85 L101.28,501.51 L102.25,501.17 L103.22,500.82 L104.19,500.47 L105.16,500.12 L106.13,499.76 L107.10,499.41 L108.07,499.05 L109.03,498.68 L110.00,498.32 L110.97,497.95 L111.94,497.58 L112.91,497.21 L113.88,496.83 L114.85,496.45 L115.82,496.07 L116.79,495.69 L117.76,495.30 L118.73,494.91 L119.70,494.52 L120.66,494.13 L121.63,493.73 L122.60,493.33 L123.57,492.93 L124.54,492.52 L125.51,492.12 L126.48,491.70 L127.45,491.29 L128.42,490.88 L129.39,490.46 L130.36,490.04 L131.33,489.61 L132.29,489.18 L133.26,488.76 L134.23,488.33 L135.20,487.89 L136.17,487.45 L137.14,487.02 L138.11,486.57 L139.08,486.13 L140.05,485.68 L141.02,485.23 L141.99,484.78 L142.96,484.32 L143.93,483.86 L144.89,483.40 L145.86,482.94 L146.83,482.47 L147.80,482.00 L148.77,481.53 L149.74,481.06 L150.71,480.58 L151.68,480.10 L152.65,479.62 L153.62,479.13 L154.59,478.65 L155.56,478.16 L156.52,477.66 L157.49,477.17 L158.46,476.67 L159.43,476.17 L160.40,475.67 L161.37,475.16 L162.34,474.65 L163.31,474.14 L164.28,473.63 L165.25,473.11 L166.22,472.59 L167.19,472.07 L168.15,471.54 L169.12,471.01 L170.09,470.48 L171.06,469.95 L172.03,469.42 L173.00,468.88 L173.97,468.34 L174.94,467.80 L175.91,467.25 L176.88,466.70 L177.85,466.15 L178.82,465.60 L179.78,465.04 L180.75,464.48 L181.72,463.92 L182.69,463.35 L183.66,462.78 L184.63,462.21 L185.60,461.64" fill="none" stroke="#ff0000" stroke-width="0.9" />
<path d="M31.50,519.97 L32.47,519.90 L33.44,519.82 L34.41,519.74 L35.38,519.66 L36.35,519.58 L37.32,519.49 L38.28,519.40 L39.25,519.31 L40.22,519.22 L41.19,519.12 L42.16,519.02 L43.13,518.92 L44.10,518.82 L45.07,518.71 L46.04,518.60 L47.01,518.49 L47.98,518.37 L48.95,518.25 L49.91,518.13 L50.88,518.00 L51.85,517.87 L52.82,517.74 L53.79,517.60 L54.76,517.47 L55.73,517.33 L56.70,517.19 L57.67,517.04 L58.64,516.90 L59.61,516.74 L60.58,516.59 L61.54,516.43 L62.51,516.27 L63.48,516.11 L64.45,515.94 L65.42,515.77 L66.39,515.60 L67.36,515.43 L68.33,515.25 L69.30,515.07 L70.27,514.89 L71.24,514.71 L72.21,514.52 L73.17,514.33 L74.14,514.14 L75.11,513.94 L76.08,513.74 L77.05,513.54 L78.02,513.33 L78.99,513.12 L79.96,512.91 L80.93,512.70 L81.90,512.48 L82.87,512.26 L83.84,512.04 L84.81,511.82 L85.77,511.59 L86.74,511.36 L87.71,511.12 L88.68,510.89 L89.65,510.65 L90.62,510.40 L91.59,510.16 L92.56,509.91 L93.53,509.66 L94.50,509.41 L95.47,509.15 L96.44,508.89 L97.40,508.63 L98.37,508.37 L99.34,508.10 L100.31,507.83 L101.28,507.55 L102.25,507.28 L103.22,507.00 L104.19,506.71 L105.16,506.43 L106.13,506.14 L107.10,505.85 L108.07,505.56 L109.03,505.26 L110.00,504.97 L110.97,504.66 L111.94,504.36 L112.91,504.05 L113.88,503.74 L114.85,503.43 L115.82,503.11 L116.79,502.79 L117.76,502.47 L118.73,502.14 L119.70,501.82 L120.66,501.49 L121.63,501.15 L122.60,500.82 L123.57,500.48 L124.54,500.14 L125.51,499.79 L126.48,499.45 L127.45,499.10 L128.42,498.74 L129.39,498.39 L130.36,498.03 L131.33,497.67 L132.29,497.30 L133.26,496.93 L134.23,496.56 L135.20,496.19 L136.17,495.82 L137.14,495.44 L138.11,495.06 L139.08,494.67 L140.05,494.28 L141.02,493.89 L141.99,493.50 L142.96,493.10 L143.93,492.71 L144.89,492.30 L145.86,491.90 L146.83,491.49 L147.80,491.08 L148.77,490.67 L149.74,490.26 L150.71,489.84 L151.68,489.42 L152.65,488.99 L153.62,488.56 L154.59,488.13 L155.56,487.70 L156.52,487.27 L157.49,486.83 L158.46,486.39 L159.43,485.94 L160.40,485.50 L161.37,485.05 L162.34,484.59 L163.31,484.14 L164.28,483.68 L165.25,483.22 L166.22,482.75 L167.19,482.29 L168.15,481.82 L169.12,481.34 L170.09,480.87 L171.06,480.39 L172.03,479.91 L173.00,479.43 L173.97,478.94 L174.94,478.45 L175.91,477.96 L176.88,477.46 L177.85,476.97 L178.82,476.47 L179.78,475.96 L180.75,475.45 L181.72,474.94 L182.69,474.43 L183.66,473.92 L184.63,473.40 L185.60,472.88" fill="none" stroke="#808000" stroke-width="1.0" stroke-dasharray="3.3 2.6" />
<path d="M31.50,518.60 L32.47,518.60 L33.44,518.60 L34.41,518.60 L35.38,518.60 L36.35,518.59 L37.32,518.59 L38.28,518.59 L39.25,518.58 L40.22,518.58 L41.19,518.57 L42.16,518.57 L43.13,518.56 L44.10,518.56 L45.07,518.55 L46.04,518.53 L47.01,518.51 L47.98,518.48 L48.95,518.45 L49.91,518.41 L50.88,518.37 L51.85,518.33 L52.82,518.28 L53.79,518.23 L54.76,518.19 L55.73,518.14 L56.70,518.09 L57.67,518.04 L58.64,517.98 L59.61,517.92 L60.58,517.86 L61.54,517.80 L62.51,517.73 L63.48,517.66 L64.45,517.58 L65.42,517.51 L66.39,517.43 L67.36,517.35 L68.33,517.26 L69.30,517.18 L70.27,517.10 L71.24,517.01 L72.21,516.92 L73.17,516.82 L74.14,516.72 L75.11,516.62 L76.08,516.52 L77.05,516.41 L78.02,516.30 L78.99,516.19 L79.96,516.08 L80.93,515.96 L81.90,515.84 L82.87,515.72 L83.84,515.60 L84.81,515.48 L85.77,515.35 L86.74,515.22 L87.71,515.08 L88.68,514.95 L89.65,514.81 L90.62,514.67 L91.59,514.52 L92.56,514.37 L93.53,514.22 L94.50,514.07 L95.47,513.92 L96.44,513.77 L97.40,513.61 L98.37,513.45 L99.34,513.28 L100.31,513.11 L101.28,512.94 L102.25,512.77 L103.22,512.60 L104.19,512.42 L105.16,512.24 L106.13,512.06 L107.10,511.87 L108.07,511.69 L109.03,511.50 L110.00,511.31 L110.97,511.11 L111.94,510.91 L112.91,510.71 L113.88,510.51 L114.85,510.30 L115.82,510.10 L116.79,509.88 L117.76,509.67 L118.73,509.46 L119.70,509.24 L120.66,509.02 L121.63,508.80 L122.60,508.57 L123.57,508.34 L124.54,508.11 L125.51,507.88 L126.48,507.64 L127.45,507.40 L128.42,507.16 L129.39,506.92 L130.36,506.67 L131.33,506.42 L132.29,506.17 L133.26,505.92 L134.23,505.66 L135.20,505.40 L136.17,505.14 L137.14,504.88 L138.11,504.61 L139.08,504.34 L140.05,504.07 L141.02,503.80 L141.99,503.52 L142.96,503.24 L143.93,502.96 L144.89,502.67 L145.86,502.38 L146.83,502.10 L147.80,501.80 L148.77,501.51 L149.74,501.21 L150.71,500.91 L151.68,500.61 L152.65,500.30 L153.62,500.00 L154.59,499.69 L155.56,499.37 L156.52,499.06 L157.49,498.74 L158.46,498.42 L159.43,498.10 L160.40,497.77 L161.37,497.44 L162.34,497.11 L163.31,496.78 L164.28,496.45 L165.25,496.11 L166.22,495.77 L167.19,495.42 L168.15,495.08 L169.12,494.73 L170.09,494.38 L171.06,494.02 L172.03,493.67 L173.00,493.31 L173.97,492.95 L174.94,492.58 L175.91,492.22 L176.88,491.85 L177.85,491.48 L178.82,491.10 L179.78,490.73 L180.75,490.35 L181.72,489.97 L182.69,489.58 L183.66,489.19 L184.63,488.80 L185.60,488.41" fill="none" stroke="#008080" stroke-width="0.95" stroke-dasharray="3 1.2 0.8 1.2 0.8 1.2" />
</g>
</svg>
</body></html>
